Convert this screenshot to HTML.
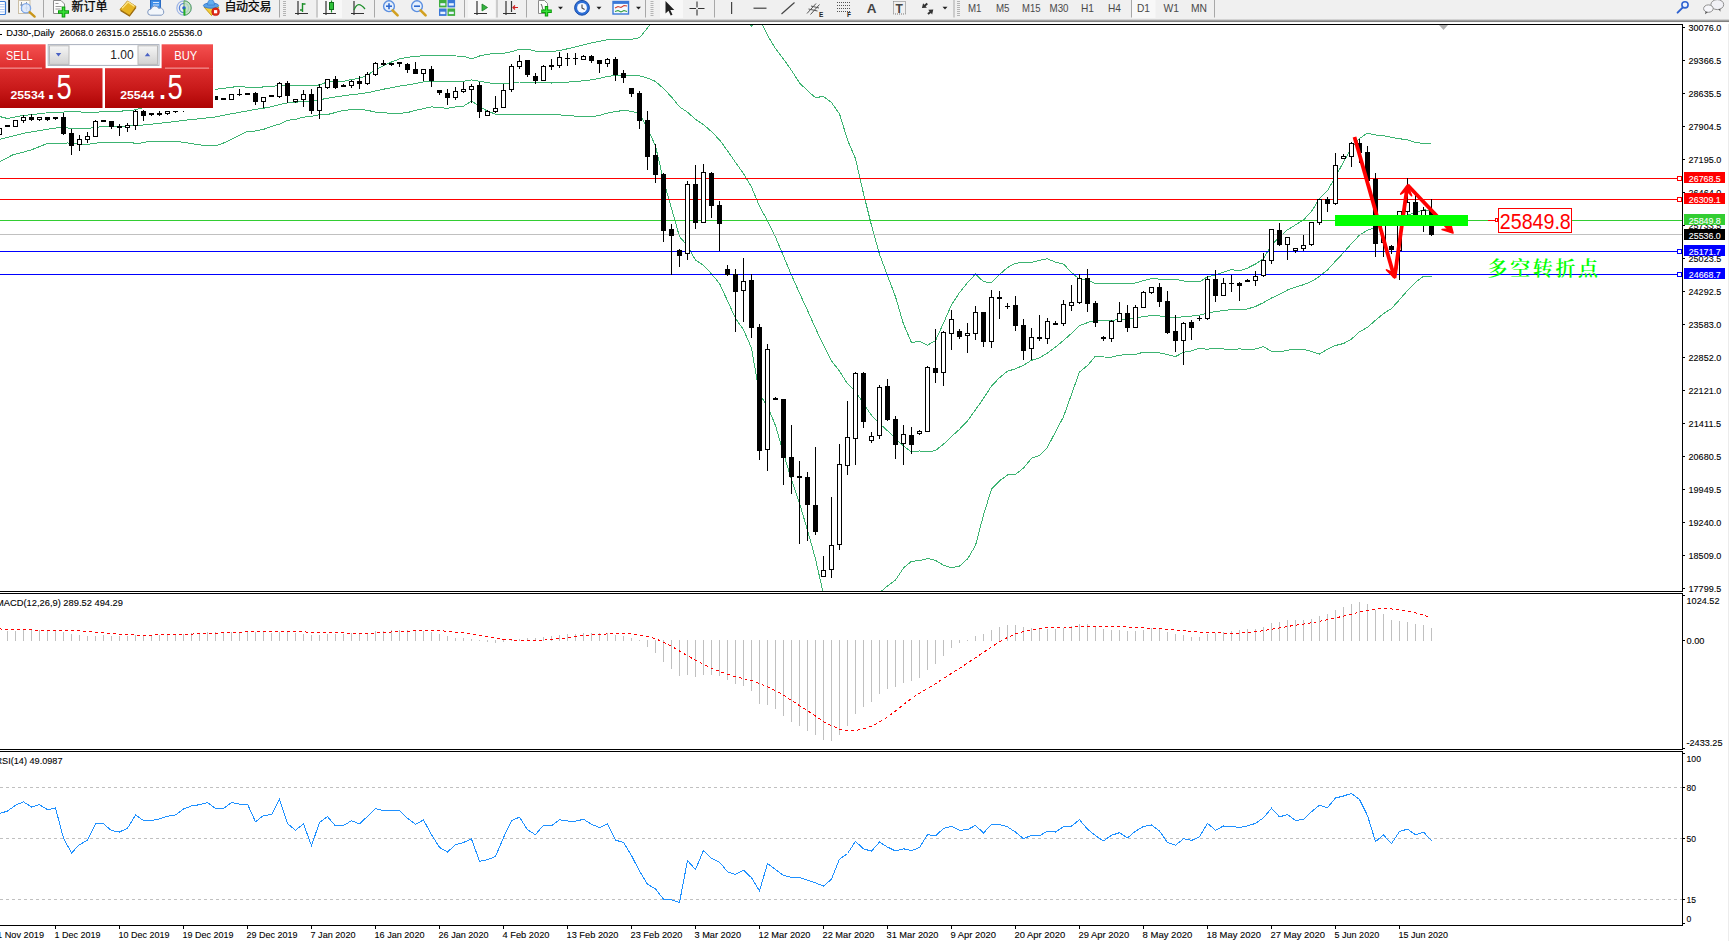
<!DOCTYPE html>
<html><head><meta charset="utf-8"><title>DJ30-,Daily</title>
<style>
html,body{margin:0;padding:0;background:#fff;}
body{width:1729px;height:941px;position:relative;overflow:hidden;font-family:"Liberation Sans","Noto Sans CJK SC",sans-serif;}
#tb{position:absolute;left:0;top:0;width:1729px;height:24px;}
</style></head><body>
<svg width="1729" height="941" viewBox="0 0 1729 941" style="position:absolute;left:0;top:0" shape-rendering="crispEdges">
<defs><clipPath id="cm"><rect x="0" y="25" width="1682" height="566"/></clipPath><clipPath id="c2"><rect x="0" y="594" width="1682" height="155"/></clipPath><clipPath id="c3"><rect x="0" y="752" width="1682" height="173"/></clipPath></defs>
<g clip-path="url(#cm)">
<polyline fill="none" stroke="#3cb371" stroke-width="1" points="-1.0,116.4 7.5,118.5 22.5,115.6 50.0,112.5 75.0,111.6 87.5,112.5 132.0,110.6 150.0,106.0 215.0,89.4 237.5,86.5 255.5,87.8 263.5,86.9 271.5,86.9 279.5,84.8 287.5,85.6 295.5,85.5 303.5,85.4 311.5,85.8 319.5,84.9 327.5,81.9 335.5,81.5 343.5,81.3 351.5,79.5 359.5,78.3 367.5,75.2 375.5,69.6 383.5,65.6 391.5,62.0 399.5,58.9 407.5,57.2 415.5,56.6 423.5,55.5 431.5,55.6 439.5,55.6 447.5,55.5 455.5,56.0 463.5,56.1 471.5,58.9 479.5,56.0 487.5,54.4 495.5,53.3 503.5,53.4 511.5,51.7 519.5,49.2 527.5,49.2 535.5,51.2 543.5,51.4 551.5,51.8 559.5,50.5 567.5,48.8 575.5,46.8 583.5,44.8 591.5,42.8 599.5,41.3 607.5,39.7 615.5,39.6 623.5,39.6 631.5,39.3 639.5,37.8 647.5,28.0 655.5,16.9 663.5,-3.4 671.5,-14.5 679.5,-23.2 687.5,-21.1 695.5,-21.5 703.5,-15.9 711.5,-10.7 719.5,-3.6 727.5,0.7 735.5,6.4 743.5,17.4 751.5,25.9 759.5,18.2 767.5,35.4 775.5,48.5 783.5,59.0 791.5,70.4 799.5,82.9 807.5,90.7 815.5,97.6 823.5,96.4 831.5,102.6 839.5,113.9 847.5,139.9 855.5,158.6 863.5,193.6 871.5,225.4 879.5,254.2 887.5,275.6 895.5,296.8 903.5,324.1 911.5,342.6 919.5,341.2 927.5,345.2 935.5,340.6 943.5,323.1 951.5,304.9 959.5,292.6 967.5,282.6 975.5,274.1 983.5,281.7 991.5,282.7 999.5,274.5 1007.5,267.5 1015.5,263.3 1023.5,262.5 1031.5,262.4 1039.5,260.4 1047.5,258.8 1055.5,262.2 1063.5,264.1 1071.5,272.4 1079.5,279.4 1087.5,279.7 1095.5,284.0 1103.5,283.8 1111.5,283.9 1119.5,283.5 1127.5,283.5 1135.5,283.0 1143.5,280.6 1151.5,278.7 1159.5,279.1 1167.5,279.9 1175.5,279.3 1183.5,281.0 1191.5,281.4 1199.5,282.0 1207.5,276.8 1215.5,275.1 1223.5,272.1 1231.5,269.6 1239.5,271.0 1247.5,268.1 1255.5,264.0 1263.5,258.5 1271.5,244.7 1279.5,237.1 1287.5,229.8 1295.5,224.9 1303.5,220.0 1311.5,211.4 1319.5,198.6 1327.5,190.7 1335.5,176.8 1343.5,161.9 1351.5,147.8 1359.5,138.5 1367.5,133.1 1375.5,135.0 1383.5,135.7 1391.5,137.4 1399.5,138.7 1407.5,139.9 1415.5,142.4 1423.5,143.5 1431.5,143.4" />
<polyline fill="none" stroke="#3cb371" stroke-width="1" points="-1.0,139.5 25.0,133.0 50.0,128.8 65.0,126.9 70.0,129.0 87.5,128.5 100.0,126.9 125.0,126.2 137.5,125.6 162.5,123.0 187.5,120.0 216.0,116.9 225.0,115.0 255.5,109.4 263.5,108.2 271.5,106.7 279.5,104.5 287.5,103.0 295.5,102.4 303.5,101.3 311.5,101.1 319.5,99.8 327.5,98.2 335.5,97.0 343.5,95.8 351.5,94.7 359.5,93.9 367.5,92.7 375.5,90.9 383.5,89.2 391.5,87.7 399.5,86.1 407.5,84.9 415.5,83.5 423.5,82.0 431.5,81.2 439.5,81.7 447.5,81.8 455.5,81.4 463.5,81.2 471.5,79.9 479.5,81.2 487.5,82.7 495.5,83.7 503.5,83.9 511.5,83.1 519.5,82.0 527.5,82.0 535.5,82.8 543.5,82.9 551.5,83.0 559.5,82.7 567.5,82.2 575.5,81.4 583.5,80.8 591.5,79.8 599.5,78.3 607.5,76.4 615.5,75.6 623.5,75.0 631.5,75.3 639.5,75.8 647.5,78.1 655.5,81.4 663.5,88.5 671.5,97.0 679.5,106.8 687.5,112.2 695.5,119.4 703.5,124.7 711.5,131.6 719.5,139.9 727.5,150.7 735.5,162.4 743.5,173.6 751.5,187.0 759.5,206.3 767.5,220.8 775.5,237.1 783.5,256.1 791.5,275.2 799.5,293.1 807.5,310.4 815.5,328.3 823.5,345.3 831.5,360.8 839.5,371.2 847.5,383.8 855.5,391.3 863.5,403.8 871.5,415.3 879.5,423.5 887.5,430.8 895.5,438.4 903.5,446.1 911.5,451.9 919.5,451.0 927.5,451.9 935.5,450.5 943.5,444.2 951.5,436.4 959.5,429.3 967.5,420.8 975.5,409.8 983.5,398.4 991.5,386.0 999.5,377.7 1007.5,371.2 1015.5,368.8 1023.5,365.3 1031.5,360.3 1039.5,357.9 1047.5,353.0 1055.5,347.0 1063.5,340.5 1071.5,333.4 1079.5,325.7 1087.5,322.6 1095.5,320.1 1103.5,320.4 1111.5,320.5 1119.5,319.3 1127.5,319.1 1135.5,318.8 1143.5,316.3 1151.5,315.8 1159.5,315.9 1167.5,317.2 1175.5,318.0 1183.5,316.6 1191.5,316.1 1199.5,315.1 1207.5,313.0 1215.5,311.6 1223.5,310.5 1231.5,309.6 1239.5,310.0 1247.5,308.9 1255.5,306.5 1263.5,302.6 1271.5,298.0 1279.5,294.5 1287.5,290.0 1295.5,287.1 1303.5,284.7 1311.5,281.5 1319.5,276.4 1327.5,269.9 1335.5,261.1 1343.5,252.7 1351.5,243.5 1359.5,235.1 1367.5,230.2 1375.5,227.6 1383.5,224.7 1391.5,222.9 1399.5,219.2 1407.5,215.2 1415.5,212.4 1423.5,209.9 1431.5,210.2" />
<polyline fill="none" stroke="#3cb371" stroke-width="1" points="-1.0,162.0 12.5,155.0 31.0,150.0 46.0,144.0 67.5,143.0 87.5,144.4 100.0,142.5 131.0,142.5 137.5,143.8 150.0,141.2 175.0,141.2 187.5,143.0 205.0,145.6 216.0,145.6 225.0,142.5 246.0,131.9 255.5,131.0 263.5,129.4 271.5,126.4 279.5,124.1 287.5,120.3 295.5,119.3 303.5,117.2 311.5,116.4 319.5,114.6 327.5,114.5 335.5,112.5 343.5,110.3 351.5,109.8 359.5,109.4 367.5,110.3 375.5,112.2 383.5,112.8 391.5,113.3 399.5,113.3 407.5,112.6 415.5,110.3 423.5,108.6 431.5,106.8 439.5,107.8 447.5,108.2 455.5,106.9 463.5,106.2 471.5,101.0 479.5,106.4 487.5,111.1 495.5,114.1 503.5,114.4 511.5,114.5 519.5,114.8 527.5,114.8 535.5,114.5 543.5,114.4 551.5,114.3 559.5,114.9 567.5,115.5 575.5,116.1 583.5,116.8 591.5,116.8 599.5,115.4 607.5,113.1 615.5,111.6 623.5,110.4 631.5,111.3 639.5,113.8 647.5,128.2 655.5,146.0 663.5,180.4 671.5,208.5 679.5,236.7 687.5,245.6 695.5,260.2 703.5,265.2 711.5,273.9 719.5,283.5 727.5,300.8 735.5,318.3 743.5,329.8 751.5,348.0 759.5,394.4 767.5,406.2 775.5,425.6 783.5,453.2 791.5,480.0 799.5,503.2 807.5,530.2 815.5,559.0 823.5,594.2 831.5,619.0 839.5,628.5 847.5,627.8 855.5,624.0 863.5,614.0 871.5,605.3 879.5,592.8 887.5,585.9 895.5,580.0 903.5,568.0 911.5,561.3 919.5,560.7 927.5,558.5 935.5,560.4 943.5,565.3 951.5,567.9 959.5,566.1 967.5,558.9 975.5,545.5 983.5,515.0 991.5,489.2 999.5,480.9 1007.5,474.9 1015.5,474.3 1023.5,468.1 1031.5,458.3 1039.5,455.4 1047.5,447.2 1055.5,431.8 1063.5,416.8 1071.5,394.4 1079.5,372.0 1087.5,365.5 1095.5,356.1 1103.5,357.0 1111.5,357.1 1119.5,355.2 1127.5,354.6 1135.5,354.6 1143.5,352.1 1151.5,352.9 1159.5,352.8 1167.5,354.6 1175.5,356.6 1183.5,352.3 1191.5,350.9 1199.5,348.2 1207.5,349.3 1215.5,348.1 1223.5,349.0 1231.5,349.6 1239.5,348.9 1247.5,349.6 1255.5,349.0 1263.5,346.7 1271.5,351.3 1279.5,351.9 1287.5,350.2 1295.5,349.2 1303.5,349.4 1311.5,351.5 1319.5,354.1 1327.5,349.1 1335.5,345.5 1343.5,343.5 1351.5,339.1 1359.5,331.8 1367.5,327.3 1375.5,320.2 1383.5,313.6 1391.5,308.5 1399.5,299.7 1407.5,290.6 1415.5,282.4 1423.5,276.3 1431.5,277.0" />
<rect x="0" y="178" width="1682" height="1" fill="#ff0000"/>
<rect x="0" y="199" width="1682" height="1" fill="#ff0000"/>
<rect x="0" y="220" width="1682" height="1" fill="#32cd32"/>
<rect x="0" y="234" width="1682" height="1" fill="#c0c0c0"/>
<rect x="0" y="251" width="1682" height="1" fill="#0000ff"/>
<rect x="0" y="274" width="1682" height="1" fill="#0000ff"/>
<rect x="-1" y="128" width="1" height="7" fill="#000"/>
<rect x="-3" y="128" width="5" height="7" fill="#000"/>
<rect x="-2" y="129" width="3" height="5" fill="#fff"/>
<rect x="7" y="125" width="1" height="2" fill="#000"/>
<rect x="5" y="125" width="5" height="2" fill="#000"/>
<rect x="15" y="120" width="1" height="7" fill="#000"/>
<rect x="13" y="120" width="5" height="7" fill="#000"/>
<rect x="14" y="121" width="3" height="5" fill="#fff"/>
<rect x="23" y="115" width="1" height="8" fill="#000"/>
<rect x="21" y="117" width="5" height="4" fill="#000"/>
<rect x="22" y="118" width="3" height="2" fill="#fff"/>
<rect x="31" y="114" width="1" height="7" fill="#000"/>
<rect x="29" y="117" width="5" height="3" fill="#000"/>
<rect x="39" y="117" width="1" height="4" fill="#000"/>
<rect x="37" y="117" width="5" height="3" fill="#000"/>
<rect x="38" y="118" width="3" height="1" fill="#fff"/>
<rect x="47" y="117" width="1" height="4" fill="#000"/>
<rect x="45" y="117" width="5" height="3" fill="#000"/>
<rect x="55" y="117" width="1" height="3" fill="#000"/>
<rect x="53" y="117" width="5" height="2" fill="#000"/>
<rect x="63" y="113" width="1" height="22" fill="#000"/>
<rect x="61" y="117" width="5" height="17" fill="#000"/>
<rect x="71" y="129" width="1" height="26" fill="#000"/>
<rect x="69" y="133" width="5" height="13" fill="#000"/>
<rect x="79" y="135" width="1" height="16" fill="#000"/>
<rect x="77" y="139" width="5" height="6" fill="#000"/>
<rect x="78" y="140" width="3" height="4" fill="#fff"/>
<rect x="87" y="132" width="1" height="11" fill="#000"/>
<rect x="85" y="136" width="5" height="4" fill="#000"/>
<rect x="86" y="137" width="3" height="2" fill="#fff"/>
<rect x="95" y="120" width="1" height="17" fill="#000"/>
<rect x="93" y="121" width="5" height="16" fill="#000"/>
<rect x="94" y="122" width="3" height="14" fill="#fff"/>
<rect x="103" y="120" width="1" height="2" fill="#000"/>
<rect x="101" y="120" width="5" height="2" fill="#000"/>
<rect x="111" y="121" width="1" height="8" fill="#000"/>
<rect x="109" y="121" width="5" height="6" fill="#000"/>
<rect x="119" y="124" width="1" height="12" fill="#000"/>
<rect x="117" y="126" width="5" height="2" fill="#000"/>
<rect x="127" y="123" width="1" height="9" fill="#000"/>
<rect x="125" y="125" width="5" height="3" fill="#000"/>
<rect x="126" y="126" width="3" height="1" fill="#fff"/>
<rect x="135" y="110" width="1" height="20" fill="#000"/>
<rect x="133" y="111" width="5" height="15" fill="#000"/>
<rect x="134" y="112" width="3" height="13" fill="#fff"/>
<rect x="143" y="110" width="1" height="11" fill="#000"/>
<rect x="141" y="111" width="5" height="5" fill="#000"/>
<rect x="151" y="113" width="1" height="3" fill="#000"/>
<rect x="149" y="113" width="5" height="2" fill="#000"/>
<rect x="159" y="111" width="1" height="5" fill="#000"/>
<rect x="157" y="113" width="5" height="2" fill="#000"/>
<rect x="167" y="111" width="1" height="4" fill="#000"/>
<rect x="165" y="111" width="5" height="3" fill="#000"/>
<rect x="166" y="112" width="3" height="1" fill="#fff"/>
<rect x="175" y="111" width="1" height="2" fill="#000"/>
<rect x="173" y="111" width="5" height="1" fill="#000"/>
<rect x="183" y="111" width="1" height="1" fill="#000"/>
<rect x="191" y="103" width="1" height="5" fill="#000"/>
<rect x="189" y="104" width="5" height="3" fill="#000"/>
<rect x="190" y="105" width="3" height="1" fill="#fff"/>
<rect x="199" y="99" width="1" height="6" fill="#000"/>
<rect x="197" y="100" width="5" height="4" fill="#000"/>
<rect x="198" y="101" width="3" height="2" fill="#fff"/>
<rect x="207" y="96" width="1" height="5" fill="#000"/>
<rect x="205" y="96" width="5" height="4" fill="#000"/>
<rect x="206" y="97" width="3" height="2" fill="#fff"/>
<rect x="215" y="96" width="1" height="4" fill="#000"/>
<rect x="213" y="96" width="5" height="4" fill="#000"/>
<rect x="223" y="98" width="1" height="2" fill="#000"/>
<rect x="221" y="98" width="5" height="2" fill="#000"/>
<rect x="231" y="94" width="1" height="6" fill="#000"/>
<rect x="229" y="94" width="5" height="6" fill="#000"/>
<rect x="230" y="95" width="3" height="4" fill="#fff"/>
<rect x="239" y="89" width="1" height="7" fill="#000"/>
<rect x="237" y="94" width="5" height="1" fill="#000"/>
<rect x="247" y="93" width="1" height="2" fill="#000"/>
<rect x="245" y="93" width="5" height="2" fill="#000"/>
<rect x="255" y="92" width="1" height="13" fill="#000"/>
<rect x="253" y="93" width="5" height="9" fill="#000"/>
<rect x="263" y="97" width="1" height="11" fill="#000"/>
<rect x="261" y="97" width="5" height="5" fill="#000"/>
<rect x="262" y="98" width="3" height="3" fill="#fff"/>
<rect x="271" y="95" width="1" height="2" fill="#000"/>
<rect x="269" y="95" width="5" height="2" fill="#000"/>
<rect x="279" y="82" width="1" height="16" fill="#000"/>
<rect x="277" y="83" width="5" height="14" fill="#000"/>
<rect x="278" y="84" width="3" height="12" fill="#fff"/>
<rect x="287" y="81" width="1" height="22" fill="#000"/>
<rect x="285" y="83" width="5" height="13" fill="#000"/>
<rect x="295" y="99" width="1" height="4" fill="#000"/>
<rect x="293" y="99" width="5" height="3" fill="#000"/>
<rect x="294" y="100" width="3" height="1" fill="#fff"/>
<rect x="303" y="90" width="1" height="17" fill="#000"/>
<rect x="301" y="94" width="5" height="6" fill="#000"/>
<rect x="302" y="95" width="3" height="4" fill="#fff"/>
<rect x="311" y="89" width="1" height="25" fill="#000"/>
<rect x="309" y="94" width="5" height="17" fill="#000"/>
<rect x="319" y="84" width="1" height="35" fill="#000"/>
<rect x="317" y="87" width="5" height="24" fill="#000"/>
<rect x="318" y="88" width="3" height="22" fill="#fff"/>
<rect x="327" y="79" width="1" height="10" fill="#000"/>
<rect x="325" y="79" width="5" height="9" fill="#000"/>
<rect x="326" y="80" width="3" height="7" fill="#fff"/>
<rect x="335" y="76" width="1" height="13" fill="#000"/>
<rect x="333" y="79" width="5" height="9" fill="#000"/>
<rect x="343" y="84" width="1" height="3" fill="#000"/>
<rect x="341" y="85" width="5" height="2" fill="#000"/>
<rect x="351" y="80" width="1" height="8" fill="#000"/>
<rect x="349" y="81" width="5" height="5" fill="#000"/>
<rect x="350" y="82" width="3" height="3" fill="#fff"/>
<rect x="359" y="76" width="1" height="13" fill="#000"/>
<rect x="357" y="81" width="5" height="3" fill="#000"/>
<rect x="367" y="72" width="1" height="13" fill="#000"/>
<rect x="365" y="74" width="5" height="10" fill="#000"/>
<rect x="366" y="75" width="3" height="8" fill="#fff"/>
<rect x="375" y="62" width="1" height="14" fill="#000"/>
<rect x="373" y="63" width="5" height="12" fill="#000"/>
<rect x="374" y="64" width="3" height="10" fill="#fff"/>
<rect x="383" y="60" width="1" height="6" fill="#000"/>
<rect x="381" y="63" width="5" height="2" fill="#000"/>
<rect x="391" y="63" width="1" height="3" fill="#000"/>
<rect x="389" y="63" width="5" height="2" fill="#000"/>
<rect x="399" y="62" width="1" height="5" fill="#000"/>
<rect x="397" y="62" width="5" height="2" fill="#000"/>
<rect x="407" y="63" width="1" height="10" fill="#000"/>
<rect x="405" y="64" width="5" height="6" fill="#000"/>
<rect x="415" y="62" width="1" height="12" fill="#000"/>
<rect x="413" y="69" width="5" height="5" fill="#000"/>
<rect x="423" y="69" width="1" height="12" fill="#000"/>
<rect x="421" y="69" width="5" height="5" fill="#000"/>
<rect x="422" y="70" width="3" height="3" fill="#fff"/>
<rect x="431" y="66" width="1" height="21" fill="#000"/>
<rect x="429" y="69" width="5" height="12" fill="#000"/>
<rect x="439" y="90" width="1" height="5" fill="#000"/>
<rect x="437" y="90" width="5" height="3" fill="#000"/>
<rect x="447" y="89" width="1" height="16" fill="#000"/>
<rect x="445" y="93" width="5" height="5" fill="#000"/>
<rect x="455" y="87" width="1" height="13" fill="#000"/>
<rect x="453" y="91" width="5" height="7" fill="#000"/>
<rect x="454" y="92" width="3" height="5" fill="#fff"/>
<rect x="463" y="82" width="1" height="11" fill="#000"/>
<rect x="461" y="89" width="5" height="3" fill="#000"/>
<rect x="462" y="90" width="3" height="1" fill="#fff"/>
<rect x="471" y="84" width="1" height="19" fill="#000"/>
<rect x="469" y="86" width="5" height="4" fill="#000"/>
<rect x="470" y="87" width="3" height="2" fill="#fff"/>
<rect x="479" y="82" width="1" height="36" fill="#000"/>
<rect x="477" y="85" width="5" height="27" fill="#000"/>
<rect x="487" y="110" width="1" height="6" fill="#000"/>
<rect x="485" y="111" width="5" height="5" fill="#000"/>
<rect x="486" y="112" width="3" height="3" fill="#fff"/>
<rect x="495" y="96" width="1" height="17" fill="#000"/>
<rect x="493" y="108" width="5" height="4" fill="#000"/>
<rect x="494" y="109" width="3" height="2" fill="#fff"/>
<rect x="503" y="84" width="1" height="24" fill="#000"/>
<rect x="501" y="90" width="5" height="18" fill="#000"/>
<rect x="502" y="91" width="3" height="16" fill="#fff"/>
<rect x="511" y="64" width="1" height="28" fill="#000"/>
<rect x="509" y="66" width="5" height="24" fill="#000"/>
<rect x="510" y="67" width="3" height="22" fill="#fff"/>
<rect x="519" y="55" width="1" height="14" fill="#000"/>
<rect x="517" y="61" width="5" height="6" fill="#000"/>
<rect x="518" y="62" width="3" height="4" fill="#fff"/>
<rect x="527" y="60" width="1" height="17" fill="#000"/>
<rect x="525" y="60" width="5" height="15" fill="#000"/>
<rect x="535" y="73" width="1" height="11" fill="#000"/>
<rect x="533" y="76" width="5" height="5" fill="#000"/>
<rect x="543" y="65" width="1" height="16" fill="#000"/>
<rect x="541" y="66" width="5" height="15" fill="#000"/>
<rect x="542" y="67" width="3" height="13" fill="#fff"/>
<rect x="551" y="59" width="1" height="11" fill="#000"/>
<rect x="549" y="65" width="5" height="2" fill="#000"/>
<rect x="559" y="52" width="1" height="16" fill="#000"/>
<rect x="557" y="57" width="5" height="9" fill="#000"/>
<rect x="558" y="58" width="3" height="7" fill="#fff"/>
<rect x="567" y="53" width="1" height="13" fill="#000"/>
<rect x="565" y="58" width="5" height="1" fill="#000"/>
<rect x="575" y="53" width="1" height="12" fill="#000"/>
<rect x="573" y="58" width="5" height="1" fill="#000"/>
<rect x="583" y="55" width="1" height="5" fill="#000"/>
<rect x="581" y="56" width="5" height="4" fill="#000"/>
<rect x="582" y="57" width="3" height="2" fill="#fff"/>
<rect x="591" y="55" width="1" height="8" fill="#000"/>
<rect x="589" y="56" width="5" height="5" fill="#000"/>
<rect x="599" y="60" width="1" height="13" fill="#000"/>
<rect x="597" y="60" width="5" height="4" fill="#000"/>
<rect x="607" y="58" width="1" height="9" fill="#000"/>
<rect x="605" y="59" width="5" height="5" fill="#000"/>
<rect x="606" y="60" width="3" height="3" fill="#fff"/>
<rect x="615" y="57" width="1" height="24" fill="#000"/>
<rect x="613" y="59" width="5" height="16" fill="#000"/>
<rect x="623" y="70" width="1" height="13" fill="#000"/>
<rect x="621" y="73" width="5" height="5" fill="#000"/>
<rect x="631" y="88" width="1" height="9" fill="#000"/>
<rect x="629" y="88" width="5" height="6" fill="#000"/>
<rect x="639" y="91" width="1" height="38" fill="#000"/>
<rect x="637" y="93" width="5" height="28" fill="#000"/>
<rect x="647" y="111" width="1" height="59" fill="#000"/>
<rect x="645" y="120" width="5" height="37" fill="#000"/>
<rect x="655" y="144" width="1" height="39" fill="#000"/>
<rect x="653" y="155" width="5" height="20" fill="#000"/>
<rect x="663" y="173" width="1" height="69" fill="#000"/>
<rect x="661" y="174" width="5" height="57" fill="#000"/>
<rect x="671" y="224" width="1" height="51" fill="#000"/>
<rect x="669" y="229" width="5" height="7" fill="#000"/>
<rect x="679" y="249" width="1" height="18" fill="#000"/>
<rect x="677" y="250" width="5" height="6" fill="#000"/>
<rect x="687" y="181" width="1" height="79" fill="#000"/>
<rect x="685" y="184" width="5" height="70" fill="#000"/>
<rect x="686" y="185" width="3" height="68" fill="#fff"/>
<rect x="695" y="165" width="1" height="64" fill="#000"/>
<rect x="693" y="184" width="5" height="39" fill="#000"/>
<rect x="703" y="164" width="1" height="59" fill="#000"/>
<rect x="701" y="172" width="5" height="51" fill="#000"/>
<rect x="702" y="173" width="3" height="49" fill="#fff"/>
<rect x="711" y="172" width="1" height="46" fill="#000"/>
<rect x="709" y="173" width="5" height="33" fill="#000"/>
<rect x="719" y="201" width="1" height="50" fill="#000"/>
<rect x="717" y="205" width="5" height="19" fill="#000"/>
<rect x="727" y="265" width="1" height="11" fill="#000"/>
<rect x="725" y="269" width="5" height="6" fill="#000"/>
<rect x="735" y="269" width="1" height="63" fill="#000"/>
<rect x="733" y="274" width="5" height="18" fill="#000"/>
<rect x="743" y="258" width="1" height="64" fill="#000"/>
<rect x="741" y="281" width="5" height="10" fill="#000"/>
<rect x="742" y="282" width="3" height="8" fill="#fff"/>
<rect x="751" y="274" width="1" height="64" fill="#000"/>
<rect x="749" y="280" width="5" height="48" fill="#000"/>
<rect x="759" y="324" width="1" height="136" fill="#000"/>
<rect x="757" y="327" width="5" height="124" fill="#000"/>
<rect x="767" y="344" width="1" height="127" fill="#000"/>
<rect x="765" y="349" width="5" height="101" fill="#000"/>
<rect x="766" y="350" width="3" height="99" fill="#fff"/>
<rect x="775" y="397" width="1" height="3" fill="#000"/>
<rect x="773" y="398" width="5" height="2" fill="#000"/>
<rect x="783" y="399" width="1" height="86" fill="#000"/>
<rect x="781" y="399" width="5" height="59" fill="#000"/>
<rect x="791" y="425" width="1" height="69" fill="#000"/>
<rect x="789" y="457" width="5" height="20" fill="#000"/>
<rect x="799" y="461" width="1" height="83" fill="#000"/>
<rect x="797" y="476" width="5" height="2" fill="#000"/>
<rect x="807" y="472" width="1" height="69" fill="#000"/>
<rect x="805" y="477" width="5" height="28" fill="#000"/>
<rect x="815" y="447" width="1" height="88" fill="#000"/>
<rect x="813" y="505" width="5" height="27" fill="#000"/>
<rect x="823" y="556" width="1" height="21" fill="#000"/>
<rect x="821" y="570" width="5" height="7" fill="#000"/>
<rect x="822" y="571" width="3" height="5" fill="#fff"/>
<rect x="831" y="497" width="1" height="81" fill="#000"/>
<rect x="829" y="545" width="5" height="25" fill="#000"/>
<rect x="830" y="546" width="3" height="23" fill="#fff"/>
<rect x="839" y="444" width="1" height="106" fill="#000"/>
<rect x="837" y="464" width="5" height="81" fill="#000"/>
<rect x="838" y="465" width="3" height="79" fill="#fff"/>
<rect x="847" y="401" width="1" height="74" fill="#000"/>
<rect x="845" y="437" width="5" height="29" fill="#000"/>
<rect x="846" y="438" width="3" height="27" fill="#fff"/>
<rect x="855" y="372" width="1" height="93" fill="#000"/>
<rect x="853" y="373" width="5" height="66" fill="#000"/>
<rect x="854" y="374" width="3" height="64" fill="#fff"/>
<rect x="863" y="372" width="1" height="56" fill="#000"/>
<rect x="861" y="373" width="5" height="49" fill="#000"/>
<rect x="871" y="432" width="1" height="11" fill="#000"/>
<rect x="869" y="436" width="5" height="5" fill="#000"/>
<rect x="870" y="437" width="3" height="3" fill="#fff"/>
<rect x="879" y="385" width="1" height="54" fill="#000"/>
<rect x="877" y="387" width="5" height="49" fill="#000"/>
<rect x="878" y="388" width="3" height="47" fill="#fff"/>
<rect x="887" y="379" width="1" height="42" fill="#000"/>
<rect x="885" y="386" width="5" height="34" fill="#000"/>
<rect x="895" y="416" width="1" height="43" fill="#000"/>
<rect x="893" y="419" width="5" height="26" fill="#000"/>
<rect x="903" y="425" width="1" height="40" fill="#000"/>
<rect x="901" y="434" width="5" height="10" fill="#000"/>
<rect x="902" y="435" width="3" height="8" fill="#fff"/>
<rect x="911" y="427" width="1" height="27" fill="#000"/>
<rect x="909" y="435" width="5" height="10" fill="#000"/>
<rect x="919" y="430" width="1" height="5" fill="#000"/>
<rect x="917" y="431" width="5" height="3" fill="#000"/>
<rect x="918" y="432" width="3" height="1" fill="#fff"/>
<rect x="927" y="366" width="1" height="66" fill="#000"/>
<rect x="925" y="367" width="5" height="65" fill="#000"/>
<rect x="926" y="368" width="3" height="63" fill="#fff"/>
<rect x="935" y="329" width="1" height="54" fill="#000"/>
<rect x="933" y="368" width="5" height="5" fill="#000"/>
<rect x="943" y="331" width="1" height="55" fill="#000"/>
<rect x="941" y="332" width="5" height="41" fill="#000"/>
<rect x="942" y="333" width="3" height="39" fill="#fff"/>
<rect x="951" y="310" width="1" height="40" fill="#000"/>
<rect x="949" y="319" width="5" height="15" fill="#000"/>
<rect x="950" y="320" width="3" height="13" fill="#fff"/>
<rect x="959" y="329" width="1" height="10" fill="#000"/>
<rect x="957" y="331" width="5" height="6" fill="#000"/>
<rect x="967" y="323" width="1" height="30" fill="#000"/>
<rect x="965" y="333" width="5" height="3" fill="#000"/>
<rect x="966" y="334" width="3" height="1" fill="#fff"/>
<rect x="975" y="306" width="1" height="34" fill="#000"/>
<rect x="973" y="312" width="5" height="22" fill="#000"/>
<rect x="974" y="313" width="3" height="20" fill="#fff"/>
<rect x="983" y="312" width="1" height="35" fill="#000"/>
<rect x="981" y="312" width="5" height="30" fill="#000"/>
<rect x="991" y="290" width="1" height="58" fill="#000"/>
<rect x="989" y="297" width="5" height="45" fill="#000"/>
<rect x="990" y="298" width="3" height="43" fill="#fff"/>
<rect x="999" y="291" width="1" height="28" fill="#000"/>
<rect x="997" y="297" width="5" height="2" fill="#000"/>
<rect x="1007" y="303" width="1" height="6" fill="#000"/>
<rect x="1005" y="306" width="5" height="1" fill="#000"/>
<rect x="1015" y="296" width="1" height="35" fill="#000"/>
<rect x="1013" y="305" width="5" height="21" fill="#000"/>
<rect x="1023" y="319" width="1" height="41" fill="#000"/>
<rect x="1021" y="325" width="5" height="26" fill="#000"/>
<rect x="1031" y="328" width="1" height="32" fill="#000"/>
<rect x="1029" y="337" width="5" height="12" fill="#000"/>
<rect x="1030" y="338" width="3" height="10" fill="#fff"/>
<rect x="1039" y="315" width="1" height="26" fill="#000"/>
<rect x="1037" y="337" width="5" height="2" fill="#000"/>
<rect x="1047" y="318" width="1" height="26" fill="#000"/>
<rect x="1045" y="321" width="5" height="18" fill="#000"/>
<rect x="1046" y="322" width="3" height="16" fill="#fff"/>
<rect x="1055" y="321" width="1" height="4" fill="#000"/>
<rect x="1053" y="323" width="5" height="2" fill="#000"/>
<rect x="1063" y="300" width="1" height="26" fill="#000"/>
<rect x="1061" y="304" width="5" height="20" fill="#000"/>
<rect x="1062" y="305" width="3" height="18" fill="#fff"/>
<rect x="1071" y="285" width="1" height="26" fill="#000"/>
<rect x="1069" y="302" width="5" height="4" fill="#000"/>
<rect x="1070" y="303" width="3" height="2" fill="#fff"/>
<rect x="1079" y="274" width="1" height="30" fill="#000"/>
<rect x="1077" y="278" width="5" height="25" fill="#000"/>
<rect x="1078" y="279" width="3" height="23" fill="#fff"/>
<rect x="1087" y="269" width="1" height="43" fill="#000"/>
<rect x="1085" y="278" width="5" height="26" fill="#000"/>
<rect x="1095" y="301" width="1" height="26" fill="#000"/>
<rect x="1093" y="303" width="5" height="20" fill="#000"/>
<rect x="1103" y="336" width="1" height="5" fill="#000"/>
<rect x="1101" y="337" width="5" height="2" fill="#000"/>
<rect x="1111" y="320" width="1" height="22" fill="#000"/>
<rect x="1109" y="321" width="5" height="18" fill="#000"/>
<rect x="1110" y="322" width="3" height="16" fill="#fff"/>
<rect x="1119" y="302" width="1" height="20" fill="#000"/>
<rect x="1117" y="313" width="5" height="9" fill="#000"/>
<rect x="1118" y="314" width="3" height="7" fill="#fff"/>
<rect x="1127" y="305" width="1" height="27" fill="#000"/>
<rect x="1125" y="313" width="5" height="15" fill="#000"/>
<rect x="1135" y="305" width="1" height="23" fill="#000"/>
<rect x="1133" y="307" width="5" height="21" fill="#000"/>
<rect x="1134" y="308" width="3" height="19" fill="#fff"/>
<rect x="1143" y="291" width="1" height="17" fill="#000"/>
<rect x="1141" y="292" width="5" height="16" fill="#000"/>
<rect x="1142" y="293" width="3" height="14" fill="#fff"/>
<rect x="1151" y="287" width="1" height="7" fill="#000"/>
<rect x="1149" y="287" width="5" height="6" fill="#000"/>
<rect x="1150" y="288" width="3" height="4" fill="#fff"/>
<rect x="1159" y="283" width="1" height="24" fill="#000"/>
<rect x="1157" y="287" width="5" height="15" fill="#000"/>
<rect x="1167" y="291" width="1" height="43" fill="#000"/>
<rect x="1165" y="301" width="5" height="32" fill="#000"/>
<rect x="1175" y="315" width="1" height="37" fill="#000"/>
<rect x="1173" y="331" width="5" height="10" fill="#000"/>
<rect x="1183" y="322" width="1" height="43" fill="#000"/>
<rect x="1181" y="323" width="5" height="18" fill="#000"/>
<rect x="1182" y="324" width="3" height="16" fill="#fff"/>
<rect x="1191" y="320" width="1" height="20" fill="#000"/>
<rect x="1189" y="322" width="5" height="6" fill="#000"/>
<rect x="1199" y="316" width="1" height="5" fill="#000"/>
<rect x="1197" y="318" width="5" height="1" fill="#000"/>
<rect x="1207" y="276" width="1" height="44" fill="#000"/>
<rect x="1205" y="279" width="5" height="40" fill="#000"/>
<rect x="1206" y="280" width="3" height="38" fill="#fff"/>
<rect x="1215" y="270" width="1" height="32" fill="#000"/>
<rect x="1213" y="279" width="5" height="17" fill="#000"/>
<rect x="1223" y="278" width="1" height="18" fill="#000"/>
<rect x="1221" y="283" width="5" height="13" fill="#000"/>
<rect x="1222" y="284" width="3" height="11" fill="#fff"/>
<rect x="1231" y="275" width="1" height="17" fill="#000"/>
<rect x="1229" y="283" width="5" height="1" fill="#000"/>
<rect x="1239" y="282" width="1" height="19" fill="#000"/>
<rect x="1237" y="283" width="5" height="3" fill="#000"/>
<rect x="1247" y="279" width="1" height="3" fill="#000"/>
<rect x="1245" y="280" width="5" height="2" fill="#000"/>
<rect x="1255" y="271" width="1" height="15" fill="#000"/>
<rect x="1253" y="276" width="5" height="5" fill="#000"/>
<rect x="1254" y="277" width="3" height="3" fill="#fff"/>
<rect x="1263" y="253" width="1" height="24" fill="#000"/>
<rect x="1261" y="260" width="5" height="16" fill="#000"/>
<rect x="1262" y="261" width="3" height="14" fill="#fff"/>
<rect x="1271" y="229" width="1" height="35" fill="#000"/>
<rect x="1269" y="229" width="5" height="32" fill="#000"/>
<rect x="1270" y="230" width="3" height="30" fill="#fff"/>
<rect x="1279" y="223" width="1" height="23" fill="#000"/>
<rect x="1277" y="230" width="5" height="15" fill="#000"/>
<rect x="1287" y="237" width="1" height="23" fill="#000"/>
<rect x="1285" y="237" width="5" height="8" fill="#000"/>
<rect x="1286" y="238" width="3" height="6" fill="#fff"/>
<rect x="1295" y="248" width="1" height="5" fill="#000"/>
<rect x="1293" y="248" width="5" height="3" fill="#000"/>
<rect x="1294" y="249" width="3" height="1" fill="#fff"/>
<rect x="1303" y="235" width="1" height="16" fill="#000"/>
<rect x="1301" y="245" width="5" height="4" fill="#000"/>
<rect x="1302" y="246" width="3" height="2" fill="#fff"/>
<rect x="1311" y="222" width="1" height="24" fill="#000"/>
<rect x="1309" y="222" width="5" height="23" fill="#000"/>
<rect x="1310" y="223" width="3" height="21" fill="#fff"/>
<rect x="1319" y="199" width="1" height="26" fill="#000"/>
<rect x="1317" y="199" width="5" height="24" fill="#000"/>
<rect x="1318" y="200" width="3" height="22" fill="#fff"/>
<rect x="1327" y="197" width="1" height="15" fill="#000"/>
<rect x="1325" y="199" width="5" height="5" fill="#000"/>
<rect x="1335" y="153" width="1" height="52" fill="#000"/>
<rect x="1333" y="165" width="5" height="39" fill="#000"/>
<rect x="1334" y="166" width="3" height="37" fill="#fff"/>
<rect x="1343" y="154" width="1" height="5" fill="#000"/>
<rect x="1341" y="156" width="5" height="3" fill="#000"/>
<rect x="1342" y="157" width="3" height="1" fill="#fff"/>
<rect x="1351" y="142" width="1" height="25" fill="#000"/>
<rect x="1349" y="143" width="5" height="14" fill="#000"/>
<rect x="1350" y="144" width="3" height="12" fill="#fff"/>
<rect x="1359" y="139" width="1" height="24" fill="#000"/>
<rect x="1357" y="143" width="5" height="10" fill="#000"/>
<rect x="1367" y="146" width="1" height="35" fill="#000"/>
<rect x="1365" y="152" width="5" height="29" fill="#000"/>
<rect x="1375" y="173" width="1" height="84" fill="#000"/>
<rect x="1373" y="179" width="5" height="65" fill="#000"/>
<rect x="1383" y="222" width="1" height="35" fill="#000"/>
<rect x="1381" y="224" width="5" height="19" fill="#000"/>
<rect x="1382" y="225" width="3" height="17" fill="#fff"/>
<rect x="1391" y="245" width="1" height="9" fill="#000"/>
<rect x="1389" y="246" width="5" height="4" fill="#000"/>
<rect x="1399" y="211" width="1" height="69" fill="#000"/>
<rect x="1397" y="211" width="5" height="40" fill="#000"/>
<rect x="1398" y="212" width="3" height="38" fill="#fff"/>
<rect x="1407" y="178" width="1" height="37" fill="#000"/>
<rect x="1405" y="202" width="5" height="10" fill="#000"/>
<rect x="1406" y="203" width="3" height="8" fill="#fff"/>
<rect x="1415" y="191" width="1" height="30" fill="#000"/>
<rect x="1413" y="202" width="5" height="17" fill="#000"/>
<rect x="1423" y="207" width="1" height="25" fill="#000"/>
<rect x="1421" y="210" width="5" height="10" fill="#000"/>
<rect x="1422" y="211" width="3" height="8" fill="#fff"/>
<rect x="1431" y="199" width="1" height="37" fill="#000"/>
<rect x="1429" y="210" width="5" height="25" fill="#000"/>
</g>
<line x1="1354.5" y1="137.0" x2="1394.0" y2="276.1" stroke="#ff0000" stroke-width="3.8" shape-rendering="auto"/><polygon points="1394.5,278.0 1386.5,269.9 1393.0,272.7 1397.1,266.9" fill="#ff0000" stroke="#ff0000" stroke-width="1.6" stroke-linejoin="round" shape-rendering="auto"/>
<line x1="1394.5" y1="278.0" x2="1407.2" y2="187.0" stroke="#ff0000" stroke-width="3.8" shape-rendering="auto"/><polygon points="1407.5,185.0 1411.6,195.7 1406.7,190.4 1400.7,194.1" fill="#ff0000" stroke="#ff0000" stroke-width="1.6" stroke-linejoin="round" shape-rendering="auto"/>
<line x1="1407.5" y1="185.0" x2="1451.6" y2="231.5" stroke="#ff0000" stroke-width="3.8" shape-rendering="auto"/><polygon points="1453.0,233.0 1442.1,229.5 1449.2,229.0 1450.1,222.0" fill="#ff0000" stroke="#ff0000" stroke-width="1.6" stroke-linejoin="round" shape-rendering="auto"/>
<rect x="1335" y="215" width="133" height="11" fill="#00ff00"/>
<g clip-path="url(#c2)">
<rect x="-1" y="632" width="1" height="9" fill="#c0c0c0"/>
<rect x="7" y="631" width="1" height="10" fill="#c0c0c0"/>
<rect x="15" y="631" width="1" height="10" fill="#c0c0c0"/>
<rect x="23" y="630" width="1" height="11" fill="#c0c0c0"/>
<rect x="31" y="630" width="1" height="11" fill="#c0c0c0"/>
<rect x="39" y="630" width="1" height="11" fill="#c0c0c0"/>
<rect x="47" y="630" width="1" height="11" fill="#c0c0c0"/>
<rect x="55" y="630" width="1" height="11" fill="#c0c0c0"/>
<rect x="63" y="632" width="1" height="9" fill="#c0c0c0"/>
<rect x="71" y="634" width="1" height="7" fill="#c0c0c0"/>
<rect x="79" y="635" width="1" height="6" fill="#c0c0c0"/>
<rect x="87" y="636" width="1" height="5" fill="#c0c0c0"/>
<rect x="95" y="636" width="1" height="5" fill="#c0c0c0"/>
<rect x="103" y="635" width="1" height="6" fill="#c0c0c0"/>
<rect x="111" y="636" width="1" height="5" fill="#c0c0c0"/>
<rect x="119" y="636" width="1" height="5" fill="#c0c0c0"/>
<rect x="127" y="636" width="1" height="5" fill="#c0c0c0"/>
<rect x="135" y="635" width="1" height="6" fill="#c0c0c0"/>
<rect x="143" y="635" width="1" height="6" fill="#c0c0c0"/>
<rect x="151" y="635" width="1" height="6" fill="#c0c0c0"/>
<rect x="159" y="635" width="1" height="6" fill="#c0c0c0"/>
<rect x="167" y="634" width="1" height="7" fill="#c0c0c0"/>
<rect x="175" y="634" width="1" height="7" fill="#c0c0c0"/>
<rect x="183" y="634" width="1" height="7" fill="#c0c0c0"/>
<rect x="191" y="633" width="1" height="8" fill="#c0c0c0"/>
<rect x="199" y="633" width="1" height="8" fill="#c0c0c0"/>
<rect x="207" y="632" width="1" height="9" fill="#c0c0c0"/>
<rect x="215" y="632" width="1" height="9" fill="#c0c0c0"/>
<rect x="223" y="632" width="1" height="9" fill="#c0c0c0"/>
<rect x="231" y="632" width="1" height="9" fill="#c0c0c0"/>
<rect x="239" y="632" width="1" height="9" fill="#c0c0c0"/>
<rect x="247" y="632" width="1" height="9" fill="#c0c0c0"/>
<rect x="255" y="632" width="1" height="9" fill="#c0c0c0"/>
<rect x="263" y="632" width="1" height="9" fill="#c0c0c0"/>
<rect x="271" y="633" width="1" height="8" fill="#c0c0c0"/>
<rect x="279" y="632" width="1" height="9" fill="#c0c0c0"/>
<rect x="287" y="632" width="1" height="9" fill="#c0c0c0"/>
<rect x="295" y="633" width="1" height="8" fill="#c0c0c0"/>
<rect x="303" y="634" width="1" height="7" fill="#c0c0c0"/>
<rect x="311" y="635" width="1" height="6" fill="#c0c0c0"/>
<rect x="319" y="635" width="1" height="6" fill="#c0c0c0"/>
<rect x="327" y="634" width="1" height="7" fill="#c0c0c0"/>
<rect x="335" y="634" width="1" height="7" fill="#c0c0c0"/>
<rect x="343" y="634" width="1" height="7" fill="#c0c0c0"/>
<rect x="351" y="633" width="1" height="8" fill="#c0c0c0"/>
<rect x="359" y="633" width="1" height="8" fill="#c0c0c0"/>
<rect x="367" y="633" width="1" height="8" fill="#c0c0c0"/>
<rect x="375" y="631" width="1" height="10" fill="#c0c0c0"/>
<rect x="383" y="631" width="1" height="10" fill="#c0c0c0"/>
<rect x="391" y="630" width="1" height="11" fill="#c0c0c0"/>
<rect x="399" y="630" width="1" height="11" fill="#c0c0c0"/>
<rect x="407" y="630" width="1" height="11" fill="#c0c0c0"/>
<rect x="415" y="631" width="1" height="10" fill="#c0c0c0"/>
<rect x="423" y="631" width="1" height="10" fill="#c0c0c0"/>
<rect x="431" y="632" width="1" height="9" fill="#c0c0c0"/>
<rect x="439" y="634" width="1" height="7" fill="#c0c0c0"/>
<rect x="447" y="636" width="1" height="5" fill="#c0c0c0"/>
<rect x="455" y="638" width="1" height="3" fill="#c0c0c0"/>
<rect x="463" y="638" width="1" height="3" fill="#c0c0c0"/>
<rect x="471" y="639" width="1" height="2" fill="#c0c0c0"/>
<rect x="479" y="640" width="1" height="1" fill="#c0c0c0"/>
<rect x="487" y="640" width="1" height="2" fill="#c0c0c0"/>
<rect x="495" y="640" width="1" height="3" fill="#c0c0c0"/>
<rect x="503" y="640" width="1" height="2" fill="#c0c0c0"/>
<rect x="511" y="640" width="1" height="1" fill="#c0c0c0"/>
<rect x="519" y="639" width="1" height="2" fill="#c0c0c0"/>
<rect x="527" y="638" width="1" height="3" fill="#c0c0c0"/>
<rect x="535" y="638" width="1" height="3" fill="#c0c0c0"/>
<rect x="543" y="637" width="1" height="4" fill="#c0c0c0"/>
<rect x="551" y="636" width="1" height="5" fill="#c0c0c0"/>
<rect x="559" y="635" width="1" height="6" fill="#c0c0c0"/>
<rect x="567" y="634" width="1" height="7" fill="#c0c0c0"/>
<rect x="575" y="634" width="1" height="7" fill="#c0c0c0"/>
<rect x="583" y="633" width="1" height="8" fill="#c0c0c0"/>
<rect x="591" y="633" width="1" height="8" fill="#c0c0c0"/>
<rect x="599" y="633" width="1" height="8" fill="#c0c0c0"/>
<rect x="607" y="633" width="1" height="8" fill="#c0c0c0"/>
<rect x="615" y="635" width="1" height="6" fill="#c0c0c0"/>
<rect x="623" y="636" width="1" height="5" fill="#c0c0c0"/>
<rect x="631" y="638" width="1" height="3" fill="#c0c0c0"/>
<rect x="639" y="640" width="1" height="1" fill="#c0c0c0"/>
<rect x="647" y="640" width="1" height="7" fill="#c0c0c0"/>
<rect x="655" y="640" width="1" height="13" fill="#c0c0c0"/>
<rect x="663" y="640" width="1" height="22" fill="#c0c0c0"/>
<rect x="671" y="640" width="1" height="29" fill="#c0c0c0"/>
<rect x="679" y="640" width="1" height="36" fill="#c0c0c0"/>
<rect x="687" y="640" width="1" height="35" fill="#c0c0c0"/>
<rect x="695" y="640" width="1" height="37" fill="#c0c0c0"/>
<rect x="703" y="640" width="1" height="35" fill="#c0c0c0"/>
<rect x="711" y="640" width="1" height="35" fill="#c0c0c0"/>
<rect x="719" y="640" width="1" height="36" fill="#c0c0c0"/>
<rect x="727" y="640" width="1" height="40" fill="#c0c0c0"/>
<rect x="735" y="640" width="1" height="44" fill="#c0c0c0"/>
<rect x="743" y="640" width="1" height="46" fill="#c0c0c0"/>
<rect x="751" y="640" width="1" height="51" fill="#c0c0c0"/>
<rect x="759" y="640" width="1" height="64" fill="#c0c0c0"/>
<rect x="767" y="640" width="1" height="65" fill="#c0c0c0"/>
<rect x="775" y="640" width="1" height="69" fill="#c0c0c0"/>
<rect x="783" y="640" width="1" height="76" fill="#c0c0c0"/>
<rect x="791" y="640" width="1" height="82" fill="#c0c0c0"/>
<rect x="799" y="640" width="1" height="86" fill="#c0c0c0"/>
<rect x="807" y="640" width="1" height="91" fill="#c0c0c0"/>
<rect x="815" y="640" width="1" height="95" fill="#c0c0c0"/>
<rect x="823" y="640" width="1" height="100" fill="#c0c0c0"/>
<rect x="831" y="640" width="1" height="101" fill="#c0c0c0"/>
<rect x="839" y="640" width="1" height="95" fill="#c0c0c0"/>
<rect x="847" y="640" width="1" height="86" fill="#c0c0c0"/>
<rect x="855" y="640" width="1" height="74" fill="#c0c0c0"/>
<rect x="863" y="640" width="1" height="67" fill="#c0c0c0"/>
<rect x="871" y="640" width="1" height="62" fill="#c0c0c0"/>
<rect x="879" y="640" width="1" height="54" fill="#c0c0c0"/>
<rect x="887" y="640" width="1" height="49" fill="#c0c0c0"/>
<rect x="895" y="640" width="1" height="47" fill="#c0c0c0"/>
<rect x="903" y="640" width="1" height="43" fill="#c0c0c0"/>
<rect x="911" y="640" width="1" height="41" fill="#c0c0c0"/>
<rect x="919" y="640" width="1" height="38" fill="#c0c0c0"/>
<rect x="927" y="640" width="1" height="30" fill="#c0c0c0"/>
<rect x="935" y="640" width="1" height="24" fill="#c0c0c0"/>
<rect x="943" y="640" width="1" height="16" fill="#c0c0c0"/>
<rect x="951" y="640" width="1" height="8" fill="#c0c0c0"/>
<rect x="959" y="640" width="1" height="3" fill="#c0c0c0"/>
<rect x="967" y="640" width="1" height="1" fill="#c0c0c0"/>
<rect x="975" y="636" width="1" height="5" fill="#c0c0c0"/>
<rect x="983" y="634" width="1" height="7" fill="#c0c0c0"/>
<rect x="991" y="630" width="1" height="11" fill="#c0c0c0"/>
<rect x="999" y="627" width="1" height="14" fill="#c0c0c0"/>
<rect x="1007" y="625" width="1" height="16" fill="#c0c0c0"/>
<rect x="1015" y="625" width="1" height="16" fill="#c0c0c0"/>
<rect x="1023" y="627" width="1" height="14" fill="#c0c0c0"/>
<rect x="1031" y="628" width="1" height="13" fill="#c0c0c0"/>
<rect x="1039" y="629" width="1" height="12" fill="#c0c0c0"/>
<rect x="1047" y="629" width="1" height="12" fill="#c0c0c0"/>
<rect x="1055" y="629" width="1" height="12" fill="#c0c0c0"/>
<rect x="1063" y="628" width="1" height="13" fill="#c0c0c0"/>
<rect x="1071" y="626" width="1" height="15" fill="#c0c0c0"/>
<rect x="1079" y="624" width="1" height="17" fill="#c0c0c0"/>
<rect x="1087" y="624" width="1" height="17" fill="#c0c0c0"/>
<rect x="1095" y="626" width="1" height="15" fill="#c0c0c0"/>
<rect x="1103" y="629" width="1" height="12" fill="#c0c0c0"/>
<rect x="1111" y="630" width="1" height="11" fill="#c0c0c0"/>
<rect x="1119" y="630" width="1" height="11" fill="#c0c0c0"/>
<rect x="1127" y="631" width="1" height="10" fill="#c0c0c0"/>
<rect x="1135" y="631" width="1" height="10" fill="#c0c0c0"/>
<rect x="1143" y="630" width="1" height="11" fill="#c0c0c0"/>
<rect x="1151" y="628" width="1" height="13" fill="#c0c0c0"/>
<rect x="1159" y="629" width="1" height="12" fill="#c0c0c0"/>
<rect x="1167" y="632" width="1" height="9" fill="#c0c0c0"/>
<rect x="1175" y="634" width="1" height="7" fill="#c0c0c0"/>
<rect x="1183" y="635" width="1" height="6" fill="#c0c0c0"/>
<rect x="1191" y="637" width="1" height="4" fill="#c0c0c0"/>
<rect x="1199" y="637" width="1" height="4" fill="#c0c0c0"/>
<rect x="1207" y="634" width="1" height="7" fill="#c0c0c0"/>
<rect x="1215" y="633" width="1" height="8" fill="#c0c0c0"/>
<rect x="1223" y="632" width="1" height="9" fill="#c0c0c0"/>
<rect x="1231" y="631" width="1" height="10" fill="#c0c0c0"/>
<rect x="1239" y="630" width="1" height="11" fill="#c0c0c0"/>
<rect x="1247" y="629" width="1" height="12" fill="#c0c0c0"/>
<rect x="1255" y="629" width="1" height="12" fill="#c0c0c0"/>
<rect x="1263" y="627" width="1" height="14" fill="#c0c0c0"/>
<rect x="1271" y="623" width="1" height="18" fill="#c0c0c0"/>
<rect x="1279" y="622" width="1" height="19" fill="#c0c0c0"/>
<rect x="1287" y="620" width="1" height="21" fill="#c0c0c0"/>
<rect x="1295" y="620" width="1" height="21" fill="#c0c0c0"/>
<rect x="1303" y="620" width="1" height="21" fill="#c0c0c0"/>
<rect x="1311" y="619" width="1" height="22" fill="#c0c0c0"/>
<rect x="1319" y="616" width="1" height="25" fill="#c0c0c0"/>
<rect x="1327" y="614" width="1" height="27" fill="#c0c0c0"/>
<rect x="1335" y="610" width="1" height="31" fill="#c0c0c0"/>
<rect x="1343" y="607" width="1" height="34" fill="#c0c0c0"/>
<rect x="1351" y="604" width="1" height="37" fill="#c0c0c0"/>
<rect x="1359" y="602" width="1" height="39" fill="#c0c0c0"/>
<rect x="1367" y="604" width="1" height="37" fill="#c0c0c0"/>
<rect x="1375" y="610" width="1" height="31" fill="#c0c0c0"/>
<rect x="1383" y="614" width="1" height="27" fill="#c0c0c0"/>
<rect x="1391" y="620" width="1" height="21" fill="#c0c0c0"/>
<rect x="1399" y="621" width="1" height="20" fill="#c0c0c0"/>
<rect x="1407" y="622" width="1" height="19" fill="#c0c0c0"/>
<rect x="1415" y="624" width="1" height="17" fill="#c0c0c0"/>
<rect x="1423" y="625" width="1" height="16" fill="#c0c0c0"/>
<rect x="1431" y="628" width="1" height="13" fill="#c0c0c0"/>
<polyline fill="none" stroke="#ff0000" stroke-width="1" points="-0.5,628.9 7.5,629.4 15.5,629.7 23.5,629.9 31.5,630.0 39.5,630.1 47.5,630.1 55.5,630.1 63.5,630.3 71.5,630.6 79.5,631.0 87.5,631.6 95.5,632.2 103.5,632.8 111.5,633.4 119.5,634.1 127.5,634.7 135.5,635.1 143.5,635.2 151.5,635.1 159.5,634.9 167.5,634.7 175.5,634.6 183.5,634.4 191.5,634.1 199.5,633.7 207.5,633.4 215.5,633.1 223.5,632.8 231.5,632.4 239.5,632.1 247.5,631.9 255.5,631.7 263.5,631.5 271.5,631.5 279.5,631.5 287.5,631.6 295.5,631.7 303.5,631.9 311.5,632.3 319.5,632.6 327.5,632.8 335.5,632.9 343.5,633.0 351.5,633.2 359.5,633.3 367.5,633.2 375.5,633.0 383.5,632.5 391.5,632.0 399.5,631.6 407.5,631.2 415.5,630.9 423.5,630.6 431.5,630.5 439.5,630.7 447.5,631.3 455.5,632.1 463.5,633.0 471.5,634.0 479.5,635.2 487.5,636.6 495.5,638.0 503.5,639.2 511.5,639.9 519.5,640.2 527.5,640.3 535.5,640.3 543.5,640.1 551.5,639.5 559.5,638.7 567.5,637.6 575.5,636.5 583.5,635.6 591.5,635.0 599.5,634.4 607.5,633.9 615.5,633.7 623.5,633.6 631.5,634.0 639.5,634.9 647.5,636.5 655.5,638.8 663.5,642.1 671.5,646.2 679.5,651.0 687.5,655.7 695.5,660.3 703.5,664.5 711.5,668.2 719.5,671.3 727.5,674.3 735.5,676.8 743.5,678.7 751.5,680.4 759.5,683.6 767.5,686.7 775.5,690.6 783.5,695.2 791.5,700.4 799.5,705.6 807.5,710.7 815.5,716.1 823.5,721.6 831.5,725.7 839.5,729.0 847.5,730.9 855.5,730.6 863.5,728.9 871.5,726.2 879.5,722.1 887.5,717.0 895.5,711.0 903.5,704.5 911.5,698.6 919.5,693.2 927.5,688.4 935.5,683.6 943.5,678.5 951.5,673.4 959.5,668.4 967.5,663.1 975.5,657.7 983.5,652.4 991.5,646.9 999.5,642.0 1007.5,637.5 1015.5,634.0 1023.5,631.6 1031.5,629.8 1039.5,628.6 1047.5,627.8 1055.5,627.2 1063.5,627.0 1071.5,627.0 1079.5,626.9 1087.5,626.8 1095.5,626.6 1103.5,626.6 1111.5,626.7 1119.5,626.8 1127.5,627.0 1135.5,627.4 1143.5,627.8 1151.5,628.3 1159.5,628.8 1167.5,629.5 1175.5,630.1 1183.5,630.7 1191.5,631.4 1199.5,632.0 1207.5,632.4 1215.5,632.7 1223.5,633.1 1231.5,633.3 1239.5,633.1 1247.5,632.6 1255.5,631.8 1263.5,630.7 1271.5,629.2 1279.5,627.9 1287.5,626.5 1295.5,625.2 1303.5,624.1 1311.5,622.8 1319.5,621.3 1327.5,619.7 1335.5,617.9 1343.5,616.1 1351.5,614.1 1359.5,612.0 1367.5,610.2 1375.5,609.1 1383.5,608.6 1391.5,609.0 1399.5,609.8 1407.5,611.0 1415.5,612.9 1423.5,615.2 1431.5,618.1" stroke-dasharray="3,3"/>
</g>
<g clip-path="url(#c3)">
<line x1="0" y1="787.5" x2="1682" y2="787.5" stroke="#c0c0c0" stroke-width="1" stroke-dasharray="3,3"/>
<line x1="0" y1="838.5" x2="1682" y2="838.5" stroke="#c0c0c0" stroke-width="1" stroke-dasharray="3,3"/>
<line x1="0" y1="899.5" x2="1682" y2="899.5" stroke="#c0c0c0" stroke-width="1" stroke-dasharray="3,3"/>
<polyline fill="none" stroke="#1e90ff" stroke-width="1" points="-0.5,813.6 7.5,811.1 15.5,805.2 23.5,801.9 31.5,807.0 39.5,804.7 47.5,809.7 55.5,808.0 63.5,838.3 71.5,852.9 79.5,844.7 87.5,840.0 95.5,823.8 103.5,823.8 111.5,830.6 119.5,832.0 127.5,828.2 135.5,815.0 143.5,820.5 151.5,820.7 159.5,818.8 167.5,816.2 175.5,815.0 183.5,809.0 191.5,805.9 199.5,804.7 207.5,802.6 215.5,808.5 223.5,808.5 231.5,802.5 239.5,804.1 247.5,804.1 255.5,821.8 263.5,815.4 271.5,814.7 279.5,799.3 287.5,823.7 295.5,830.2 303.5,823.8 311.5,845.7 319.5,822.4 327.5,816.7 335.5,826.0 343.5,825.4 351.5,820.8 359.5,823.8 367.5,816.4 375.5,808.6 383.5,810.7 391.5,810.7 399.5,810.6 407.5,818.3 415.5,824.2 423.5,820.0 431.5,834.7 439.5,847.4 447.5,852.0 455.5,844.7 463.5,842.5 471.5,839.0 479.5,861.3 487.5,859.8 495.5,856.4 503.5,837.6 511.5,820.6 519.5,817.2 527.5,829.8 535.5,834.7 543.5,825.1 551.5,825.8 559.5,819.8 567.5,821.0 575.5,821.2 583.5,819.3 591.5,824.2 599.5,827.7 607.5,824.0 615.5,840.2 623.5,842.4 631.5,855.6 639.5,871.1 647.5,884.2 655.5,888.9 663.5,899.2 671.5,899.9 679.5,902.5 687.5,860.5 695.5,869.6 703.5,850.3 711.5,858.3 719.5,862.1 727.5,871.7 735.5,874.4 743.5,870.1 751.5,877.7 759.5,891.0 767.5,863.6 775.5,869.6 783.5,875.5 791.5,877.4 799.5,877.5 807.5,880.2 815.5,882.8 823.5,886.2 831.5,879.1 839.5,859.2 847.5,853.5 855.5,841.4 863.5,848.9 871.5,851.1 879.5,842.0 887.5,847.1 895.5,850.9 903.5,848.8 911.5,850.5 919.5,847.6 927.5,834.7 935.5,835.9 943.5,828.5 951.5,826.2 959.5,830.3 967.5,829.6 975.5,825.4 983.5,833.0 991.5,824.2 999.5,824.5 1007.5,826.8 1015.5,832.1 1023.5,838.7 1031.5,835.3 1039.5,835.8 1047.5,831.1 1055.5,832.1 1063.5,826.6 1071.5,826.1 1079.5,819.7 1087.5,829.2 1095.5,835.6 1103.5,840.9 1111.5,835.3 1119.5,832.7 1127.5,837.9 1135.5,831.1 1143.5,826.5 1151.5,825.0 1159.5,831.0 1167.5,842.6 1175.5,845.3 1183.5,838.7 1191.5,840.4 1199.5,836.9 1207.5,823.3 1215.5,830.2 1223.5,826.0 1231.5,826.5 1239.5,827.4 1247.5,825.9 1255.5,823.4 1263.5,817.8 1271.5,808.2 1279.5,816.9 1287.5,814.5 1295.5,820.6 1303.5,819.2 1311.5,811.7 1319.5,805.1 1327.5,807.7 1335.5,798.0 1343.5,796.0 1351.5,793.4 1359.5,799.5 1367.5,815.6 1375.5,841.6 1383.5,835.0 1391.5,843.6 1399.5,831.5 1407.5,829.1 1415.5,834.8 1423.5,832.1 1431.5,840.6" />
</g>
<rect x="0" y="24" width="1683" height="1" fill="#000"/>
<rect x="1682" y="24" width="1" height="902" fill="#000"/>
<rect x="0" y="591" width="1683" height="1" fill="#000"/>
<rect x="0" y="593" width="1683" height="1" fill="#000"/>
<rect x="0" y="749" width="1683" height="1" fill="#000"/>
<rect x="0" y="751" width="1683" height="1" fill="#000"/>
<rect x="0" y="592" width="1729" height="1" fill="#fff"/><rect x="0" y="750" width="1729" height="1" fill="#fff"/>
<rect x="0" y="925" width="1683" height="1" fill="#000"/>
<polygon points="1439,25 1448,25 1443.5,30" fill="#b0b0b0" shape-rendering="auto"/>
<rect x="1683" y="27" width="2" height="1" fill="#000"/>
<text x="1688.6" y="31" font-size="9.2" fill="#000" font-family="Liberation Sans, sans-serif" text-anchor="start" textLength="32.6" lengthAdjust="spacingAndGlyphs" stroke="#000" stroke-width="0.1" >30076.0</text>
<rect x="1683" y="60" width="2" height="1" fill="#000"/>
<text x="1688.6" y="64" font-size="9.2" fill="#000" font-family="Liberation Sans, sans-serif" text-anchor="start" textLength="32.6" lengthAdjust="spacingAndGlyphs" stroke="#000" stroke-width="0.1" >29366.5</text>
<rect x="1683" y="93" width="2" height="1" fill="#000"/>
<text x="1688.6" y="97" font-size="9.2" fill="#000" font-family="Liberation Sans, sans-serif" text-anchor="start" textLength="32.6" lengthAdjust="spacingAndGlyphs" stroke="#000" stroke-width="0.1" >28635.5</text>
<rect x="1683" y="126" width="2" height="1" fill="#000"/>
<text x="1688.6" y="130" font-size="9.2" fill="#000" font-family="Liberation Sans, sans-serif" text-anchor="start" textLength="32.6" lengthAdjust="spacingAndGlyphs" stroke="#000" stroke-width="0.1" >27904.5</text>
<rect x="1683" y="159" width="2" height="1" fill="#000"/>
<text x="1688.6" y="163" font-size="9.2" fill="#000" font-family="Liberation Sans, sans-serif" text-anchor="start" textLength="32.6" lengthAdjust="spacingAndGlyphs" stroke="#000" stroke-width="0.1" >27195.0</text>
<rect x="1683" y="192" width="2" height="1" fill="#000"/>
<text x="1688.6" y="196" font-size="9.2" fill="#000" font-family="Liberation Sans, sans-serif" text-anchor="start" textLength="32.6" lengthAdjust="spacingAndGlyphs" stroke="#000" stroke-width="0.1" >26464.0</text>
<rect x="1683" y="225" width="2" height="1" fill="#000"/>
<text x="1688.6" y="229" font-size="9.2" fill="#000" font-family="Liberation Sans, sans-serif" text-anchor="start" textLength="32.6" lengthAdjust="spacingAndGlyphs" stroke="#000" stroke-width="0.1" >25733.5</text>
<rect x="1683" y="258" width="2" height="1" fill="#000"/>
<text x="1688.6" y="262" font-size="9.2" fill="#000" font-family="Liberation Sans, sans-serif" text-anchor="start" textLength="32.6" lengthAdjust="spacingAndGlyphs" stroke="#000" stroke-width="0.1" >25023.5</text>
<rect x="1683" y="291" width="2" height="1" fill="#000"/>
<text x="1688.6" y="295" font-size="9.2" fill="#000" font-family="Liberation Sans, sans-serif" text-anchor="start" textLength="32.6" lengthAdjust="spacingAndGlyphs" stroke="#000" stroke-width="0.1" >24292.5</text>
<rect x="1683" y="324" width="2" height="1" fill="#000"/>
<text x="1688.6" y="328" font-size="9.2" fill="#000" font-family="Liberation Sans, sans-serif" text-anchor="start" textLength="32.6" lengthAdjust="spacingAndGlyphs" stroke="#000" stroke-width="0.1" >23583.0</text>
<rect x="1683" y="357" width="2" height="1" fill="#000"/>
<text x="1688.6" y="361" font-size="9.2" fill="#000" font-family="Liberation Sans, sans-serif" text-anchor="start" textLength="32.6" lengthAdjust="spacingAndGlyphs" stroke="#000" stroke-width="0.1" >22852.0</text>
<rect x="1683" y="390" width="2" height="1" fill="#000"/>
<text x="1688.6" y="394" font-size="9.2" fill="#000" font-family="Liberation Sans, sans-serif" text-anchor="start" textLength="32.6" lengthAdjust="spacingAndGlyphs" stroke="#000" stroke-width="0.1" >22121.0</text>
<rect x="1683" y="423" width="2" height="1" fill="#000"/>
<text x="1688.6" y="427" font-size="9.2" fill="#000" font-family="Liberation Sans, sans-serif" text-anchor="start" textLength="32.6" lengthAdjust="spacingAndGlyphs" stroke="#000" stroke-width="0.1" >21411.5</text>
<rect x="1683" y="456" width="2" height="1" fill="#000"/>
<text x="1688.6" y="460" font-size="9.2" fill="#000" font-family="Liberation Sans, sans-serif" text-anchor="start" textLength="32.6" lengthAdjust="spacingAndGlyphs" stroke="#000" stroke-width="0.1" >20680.5</text>
<rect x="1683" y="489" width="2" height="1" fill="#000"/>
<text x="1688.6" y="493" font-size="9.2" fill="#000" font-family="Liberation Sans, sans-serif" text-anchor="start" textLength="32.6" lengthAdjust="spacingAndGlyphs" stroke="#000" stroke-width="0.1" >19949.5</text>
<rect x="1683" y="522" width="2" height="1" fill="#000"/>
<text x="1688.6" y="526" font-size="9.2" fill="#000" font-family="Liberation Sans, sans-serif" text-anchor="start" textLength="32.6" lengthAdjust="spacingAndGlyphs" stroke="#000" stroke-width="0.1" >19240.0</text>
<rect x="1683" y="555" width="2" height="1" fill="#000"/>
<text x="1688.6" y="559" font-size="9.2" fill="#000" font-family="Liberation Sans, sans-serif" text-anchor="start" textLength="32.6" lengthAdjust="spacingAndGlyphs" stroke="#000" stroke-width="0.1" >18509.0</text>
<rect x="1683" y="588" width="2" height="1" fill="#000"/>
<text x="1688.6" y="592" font-size="9.2" fill="#000" font-family="Liberation Sans, sans-serif" text-anchor="start" textLength="32.6" lengthAdjust="spacingAndGlyphs" stroke="#000" stroke-width="0.1" >17799.5</text>
<rect x="1684" y="172" width="41" height="11" fill="#ff0000"/>
<text x="1688.8" y="182" font-size="9.2" fill="#fff" font-family="Liberation Sans, sans-serif" text-anchor="start" textLength="32" lengthAdjust="spacingAndGlyphs" stroke="#fff" stroke-width="0.1" >26768.5</text>
<rect x="1677.5" y="176.5" width="4" height="4" fill="#fff" stroke="#ff0000" stroke-width="1"/>
<rect x="1684" y="193" width="41" height="11" fill="#ff0000"/>
<text x="1688.8" y="203" font-size="9.2" fill="#fff" font-family="Liberation Sans, sans-serif" text-anchor="start" textLength="32" lengthAdjust="spacingAndGlyphs" stroke="#fff" stroke-width="0.1" >26309.1</text>
<rect x="1677.5" y="197.5" width="4" height="4" fill="#fff" stroke="#ff0000" stroke-width="1"/>
<rect x="1684" y="214" width="41" height="11" fill="#32cd32"/>
<text x="1688.8" y="224" font-size="9.2" fill="#fff" font-family="Liberation Sans, sans-serif" text-anchor="start" textLength="32" lengthAdjust="spacingAndGlyphs" stroke="#fff" stroke-width="0.1" >25849.8</text>
<rect x="1684" y="229" width="41" height="11" fill="#000"/>
<text x="1688.8" y="239" font-size="9.2" fill="#fff" font-family="Liberation Sans, sans-serif" text-anchor="start" textLength="32" lengthAdjust="spacingAndGlyphs" stroke="#fff" stroke-width="0.1" >25536.0</text>
<rect x="1684" y="245" width="41" height="11" fill="#0000ff"/>
<text x="1688.8" y="255" font-size="9.2" fill="#fff" font-family="Liberation Sans, sans-serif" text-anchor="start" textLength="32" lengthAdjust="spacingAndGlyphs" stroke="#fff" stroke-width="0.1" >25171.7</text>
<rect x="1677.5" y="249.5" width="4" height="4" fill="#fff" stroke="#0000ff" stroke-width="1"/>
<rect x="1684" y="268" width="41" height="11" fill="#0000ff"/>
<text x="1688.8" y="278" font-size="9.2" fill="#fff" font-family="Liberation Sans, sans-serif" text-anchor="start" textLength="32" lengthAdjust="spacingAndGlyphs" stroke="#fff" stroke-width="0.1" >24668.7</text>
<rect x="1677.5" y="272.5" width="4" height="4" fill="#fff" stroke="#0000ff" stroke-width="1"/>
<rect x="1683" y="595" width="2" height="1" fill="#000"/>
<rect x="1683" y="640" width="2" height="1" fill="#000"/>
<rect x="1683" y="748" width="2" height="1" fill="#000"/>
<text x="1686.5" y="604" font-size="9.2" fill="#000" font-family="Liberation Sans, sans-serif" text-anchor="start" textLength="33" lengthAdjust="spacingAndGlyphs" stroke="#000" stroke-width="0.1" >1024.52</text>
<text x="1686.5" y="643.6" font-size="9.2" fill="#000" font-family="Liberation Sans, sans-serif" text-anchor="start" textLength="18" lengthAdjust="spacingAndGlyphs" stroke="#000" stroke-width="0.1" >0.00</text>
<text x="1686.5" y="746" font-size="9.2" fill="#000" font-family="Liberation Sans, sans-serif" text-anchor="start" textLength="36" lengthAdjust="spacingAndGlyphs" stroke="#000" stroke-width="0.1" >-2433.25</text>
<text x="1686.5" y="762.3" font-size="9.2" fill="#000" font-family="Liberation Sans, sans-serif" text-anchor="start" textLength="14.5" lengthAdjust="spacingAndGlyphs" stroke="#000" stroke-width="0.1" >100</text>
<text x="1686.5" y="791" font-size="9.2" fill="#000" font-family="Liberation Sans, sans-serif" text-anchor="start" textLength="9.5" lengthAdjust="spacingAndGlyphs" stroke="#000" stroke-width="0.1" >80</text>
<text x="1686.5" y="842" font-size="9.2" fill="#000" font-family="Liberation Sans, sans-serif" text-anchor="start" textLength="9.5" lengthAdjust="spacingAndGlyphs" stroke="#000" stroke-width="0.1" >50</text>
<text x="1686.5" y="903" font-size="9.2" fill="#000" font-family="Liberation Sans, sans-serif" text-anchor="start" textLength="9.5" lengthAdjust="spacingAndGlyphs" stroke="#000" stroke-width="0.1" >15</text>
<text x="1686.5" y="921.6" font-size="9.2" fill="#000" font-family="Liberation Sans, sans-serif" text-anchor="start" textLength="4.8" lengthAdjust="spacingAndGlyphs" stroke="#000" stroke-width="0.1" >0</text>
<rect x="1683" y="753" width="2" height="1" fill="#000"/>
<rect x="1683" y="787" width="2" height="1" fill="#000"/>
<rect x="1683" y="838" width="2" height="1" fill="#000"/>
<rect x="1683" y="899" width="2" height="1" fill="#000"/>
<rect x="1683" y="923" width="2" height="1" fill="#000"/>
<text x="6.3" y="36.1" font-size="9.2" fill="#000" font-family="Liberation Sans, sans-serif" text-anchor="start" textLength="196" lengthAdjust="spacingAndGlyphs" stroke="#000" stroke-width="0.1" >DJ30-,Daily&#160; 26068.0 26315.0 25516.0 25536.0</text>
<text x="-4" y="606" font-size="9.2" fill="#000" font-family="Liberation Sans, sans-serif" text-anchor="start" textLength="127" lengthAdjust="spacingAndGlyphs" stroke="#000" stroke-width="0.1" >MACD(12,26,9) 289.52 494.29</text>
<text x="-4.5" y="764" font-size="9.2" fill="#000" font-family="Liberation Sans, sans-serif" text-anchor="start" textLength="67" lengthAdjust="spacingAndGlyphs" stroke="#000" stroke-width="0.1" >RSI(14) 49.0987</text>
<rect x="0" y="34" width="2" height="1" fill="#000"/>
<rect x="-9" y="926" width="1" height="3" fill="#000"/>
<text x="-8" y="938" font-size="9.2" fill="#000" font-family="Liberation Sans, sans-serif" text-anchor="start" textLength="52" lengthAdjust="spacingAndGlyphs" stroke="#000" stroke-width="0.1" >21 Nov 2019</text>
<rect x="55" y="926" width="1" height="3" fill="#000"/>
<text x="54.5" y="938" font-size="9.2" fill="#000" font-family="Liberation Sans, sans-serif" text-anchor="start" textLength="46" lengthAdjust="spacingAndGlyphs" stroke="#000" stroke-width="0.1" >1 Dec 2019</text>
<rect x="119" y="926" width="1" height="3" fill="#000"/>
<text x="118.5" y="938" font-size="9.2" fill="#000" font-family="Liberation Sans, sans-serif" text-anchor="start" textLength="51" lengthAdjust="spacingAndGlyphs" stroke="#000" stroke-width="0.1" >10 Dec 2019</text>
<rect x="183" y="926" width="1" height="3" fill="#000"/>
<text x="182.5" y="938" font-size="9.2" fill="#000" font-family="Liberation Sans, sans-serif" text-anchor="start" textLength="51" lengthAdjust="spacingAndGlyphs" stroke="#000" stroke-width="0.1" >19 Dec 2019</text>
<rect x="247" y="926" width="1" height="3" fill="#000"/>
<text x="246.5" y="938" font-size="9.2" fill="#000" font-family="Liberation Sans, sans-serif" text-anchor="start" textLength="51" lengthAdjust="spacingAndGlyphs" stroke="#000" stroke-width="0.1" >29 Dec 2019</text>
<rect x="311" y="926" width="1" height="3" fill="#000"/>
<text x="310.5" y="938" font-size="9.2" fill="#000" font-family="Liberation Sans, sans-serif" text-anchor="start" textLength="45" lengthAdjust="spacingAndGlyphs" stroke="#000" stroke-width="0.1" >7 Jan 2020</text>
<rect x="375" y="926" width="1" height="3" fill="#000"/>
<text x="374.5" y="938" font-size="9.2" fill="#000" font-family="Liberation Sans, sans-serif" text-anchor="start" textLength="50" lengthAdjust="spacingAndGlyphs" stroke="#000" stroke-width="0.1" >16 Jan 2020</text>
<rect x="439" y="926" width="1" height="3" fill="#000"/>
<text x="438.5" y="938" font-size="9.2" fill="#000" font-family="Liberation Sans, sans-serif" text-anchor="start" textLength="50" lengthAdjust="spacingAndGlyphs" stroke="#000" stroke-width="0.1" >26 Jan 2020</text>
<rect x="503" y="926" width="1" height="3" fill="#000"/>
<text x="502.5" y="938" font-size="9.2" fill="#000" font-family="Liberation Sans, sans-serif" text-anchor="start" textLength="47" lengthAdjust="spacingAndGlyphs" stroke="#000" stroke-width="0.1" >4 Feb 2020</text>
<rect x="567" y="926" width="1" height="3" fill="#000"/>
<text x="566.5" y="938" font-size="9.2" fill="#000" font-family="Liberation Sans, sans-serif" text-anchor="start" textLength="52" lengthAdjust="spacingAndGlyphs" stroke="#000" stroke-width="0.1" >13 Feb 2020</text>
<rect x="631" y="926" width="1" height="3" fill="#000"/>
<text x="630.5" y="938" font-size="9.2" fill="#000" font-family="Liberation Sans, sans-serif" text-anchor="start" textLength="52" lengthAdjust="spacingAndGlyphs" stroke="#000" stroke-width="0.1" >23 Feb 2020</text>
<rect x="695" y="926" width="1" height="3" fill="#000"/>
<text x="694.5" y="938" font-size="9.2" fill="#000" font-family="Liberation Sans, sans-serif" text-anchor="start" textLength="46.5" lengthAdjust="spacingAndGlyphs" stroke="#000" stroke-width="0.1" >3 Mar 2020</text>
<rect x="759" y="926" width="1" height="3" fill="#000"/>
<text x="758.5" y="938" font-size="9.2" fill="#000" font-family="Liberation Sans, sans-serif" text-anchor="start" textLength="52" lengthAdjust="spacingAndGlyphs" stroke="#000" stroke-width="0.1" >12 Mar 2020</text>
<rect x="823" y="926" width="1" height="3" fill="#000"/>
<text x="822.5" y="938" font-size="9.2" fill="#000" font-family="Liberation Sans, sans-serif" text-anchor="start" textLength="52" lengthAdjust="spacingAndGlyphs" stroke="#000" stroke-width="0.1" >22 Mar 2020</text>
<rect x="887" y="926" width="1" height="3" fill="#000"/>
<text x="886.5" y="938" font-size="9.2" fill="#000" font-family="Liberation Sans, sans-serif" text-anchor="start" textLength="52" lengthAdjust="spacingAndGlyphs" stroke="#000" stroke-width="0.1" >31 Mar 2020</text>
<rect x="951" y="926" width="1" height="3" fill="#000"/>
<text x="950.5" y="938" font-size="9.2" fill="#000" font-family="Liberation Sans, sans-serif" text-anchor="start" textLength="45.5" lengthAdjust="spacingAndGlyphs" stroke="#000" stroke-width="0.1" >9 Apr 2020</text>
<rect x="1015" y="926" width="1" height="3" fill="#000"/>
<text x="1014.5" y="938" font-size="9.2" fill="#000" font-family="Liberation Sans, sans-serif" text-anchor="start" textLength="50.7" lengthAdjust="spacingAndGlyphs" stroke="#000" stroke-width="0.1" >20 Apr 2020</text>
<rect x="1079" y="926" width="1" height="3" fill="#000"/>
<text x="1078.5" y="938" font-size="9.2" fill="#000" font-family="Liberation Sans, sans-serif" text-anchor="start" textLength="50.7" lengthAdjust="spacingAndGlyphs" stroke="#000" stroke-width="0.1" >29 Apr 2020</text>
<rect x="1143" y="926" width="1" height="3" fill="#000"/>
<text x="1142.5" y="938" font-size="9.2" fill="#000" font-family="Liberation Sans, sans-serif" text-anchor="start" textLength="49.8" lengthAdjust="spacingAndGlyphs" stroke="#000" stroke-width="0.1" >8 May 2020</text>
<rect x="1207" y="926" width="1" height="3" fill="#000"/>
<text x="1206.5" y="938" font-size="9.2" fill="#000" font-family="Liberation Sans, sans-serif" text-anchor="start" textLength="54.5" lengthAdjust="spacingAndGlyphs" stroke="#000" stroke-width="0.1" >18 May 2020</text>
<rect x="1271" y="926" width="1" height="3" fill="#000"/>
<text x="1270.5" y="938" font-size="9.2" fill="#000" font-family="Liberation Sans, sans-serif" text-anchor="start" textLength="54.5" lengthAdjust="spacingAndGlyphs" stroke="#000" stroke-width="0.1" >27 May 2020</text>
<rect x="1335" y="926" width="1" height="3" fill="#000"/>
<text x="1334.5" y="938" font-size="9.2" fill="#000" font-family="Liberation Sans, sans-serif" text-anchor="start" textLength="44.7" lengthAdjust="spacingAndGlyphs" stroke="#000" stroke-width="0.1" >5 Jun 2020</text>
<rect x="1399" y="926" width="1" height="3" fill="#000"/>
<text x="1398.5" y="938" font-size="9.2" fill="#000" font-family="Liberation Sans, sans-serif" text-anchor="start" textLength="49.5" lengthAdjust="spacingAndGlyphs" stroke="#000" stroke-width="0.1" >15 Jun 2020</text>
<rect x="1498.5" y="208.5" width="73" height="24" fill="#fff" stroke="#ff0000" stroke-width="1"/>
<rect x="1488" y="220" width="8" height="1" fill="#ff0000"/><rect x="1495.5" y="218.5" width="2" height="3" fill="#fff" stroke="#ff0000"/>
<text x="1499.8" y="228.8" font-size="22.5" fill="#ff0000" font-family="Liberation Sans, sans-serif" text-anchor="start" textLength="71" lengthAdjust="spacingAndGlyphs" >25849.8</text>
<text x="1487.5" y="276.3" font-size="20" fill="#00ff00" font-family="Noto Serif CJK SC, Liberation Serif, serif" font-weight="600" textLength="110.5" lengthAdjust="spacing">多空转折点</text>
<rect x="1728" y="22" width="1" height="919" fill="#ececec"/>
</svg>
<svg id="tb" width="1729" height="24" viewBox="0 0 1729 24" font-family="Liberation Sans, Noto Sans CJK SC, sans-serif">
<defs><linearGradient id="tbg" x1="0" y1="0" x2="0" y2="1"><stop offset="0" stop-color="#e8e8e8"/><stop offset="0.35" stop-color="#b8b8b8"/><stop offset="0.7" stop-color="#767676"/><stop offset="1" stop-color="#9a9a9a"/></linearGradient></defs>
<rect x="0" y="0" width="1729" height="19" fill="#f0f0f0"/>
<rect x="0" y="19" width="1729" height="3.2" fill="url(#tbg)"/>
<rect x="0" y="22.2" width="1729" height="1.8" fill="#fff"/>
<rect x="-2" y="1.5" width="7.5" height="13" rx="1" fill="#fff" stroke="#3b7bd6" stroke-width="1.2"/>
<rect x="0" y="4" width="4.5" height="0.8" fill="#9bbcf0"/>
<rect x="0" y="6.5" width="4.5" height="0.8" fill="#9bbcf0"/>
<rect x="0" y="9" width="4.5" height="0.8" fill="#9bbcf0"/>
<rect x="0" y="11.5" width="4.5" height="0.8" fill="#9bbcf0"/>
<rect x="8.2" y="0" width="1.8" height="12.6" fill="#111"/>
<rect x="18.5" y="0.5" width="11.5" height="13" fill="#fbfaf6" stroke="#cbbfa6" stroke-width="1"/>
<path d="M21.5 2v9M26.5 2v9M20 5h3M25 8h3" stroke="#8a96a8" stroke-width="1" fill="none"/>
<circle cx="26" cy="8.3" r="4.6" fill="#dbe8fb" fill-opacity=".85" stroke="#7ea6e6" stroke-width="1.3"/>
<path d="M29.6 12.2l5 4.4" stroke="#c9961a" stroke-width="2.4" stroke-linecap="round"/>
<rect x="43" y="0" width="1" height="17.5" fill="#a8a8a8"/>
<path d="M53.5 0.5h7.5l3.5 3.5v9.5h-11z" fill="#fdfdfd" stroke="#8a8a8a" stroke-width="1"/>
<path d="M55.5 3.5h3M55.5 6.5h6M55.5 9h5" stroke="#9a9a9a" stroke-width="1"/>
<path d="M63.5 6.5v11M58 12h11" stroke="#0a9a0a" stroke-width="3.6"/>
<path d="M63.5 7.5v9M59 12h9" stroke="#39e039" stroke-width="1.6"/>
<text x="71.6" y="11.2" font-size="12" fill="#000" stroke="#000" stroke-width=".25" textLength="36">新订单</text>
<path d="M120 9.5l7.5-8.5 8.5 5.5-6.5 9z" fill="#e6b422" stroke="#b07d10" stroke-width="1"/>
<path d="M122 8.2l6-6.2 6.5 4.4" stroke="#fbe58a" stroke-width="1.4" fill="none"/>
<path d="M120.5 10.5l9 5.5 6.5-8.5" stroke="#9a6a0c" stroke-width="1.2" fill="none"/>
<rect x="150.5" y="0" width="10" height="9" fill="#3f8ee8" stroke="#2a6cc4" stroke-width="1"/>
<path d="M153 2.5h6M153 5h6" stroke="#d6e8ff" stroke-width="1.2"/>
<path d="M150.5 15.2a3 3 0 0 1 0.4-6a4.2 4.2 0 0 1 7.8-0.8a3.4 3.4 0 0 1 2.6 6.8z" fill="#f2f6fb" stroke="#7f97bf" stroke-width="1"/>
<circle cx="184" cy="8" r="7.2" fill="none" stroke="#9fb6e6" stroke-width="1.2"/>
<circle cx="184" cy="8" r="4.6" fill="none" stroke="#5b86dc" stroke-width="1.3"/>
<path d="M184 0.8a7.2 7.2 0 0 1 0 14.4z" fill="#bfe0bf" fill-opacity=".8" stroke="#5aa55a" stroke-width="1"/>
<circle cx="184" cy="8" r="1.8" fill="#2b5fd0"/>
<path d="M184.5 8.5v7" stroke="#1fae2a" stroke-width="1.8"/>
<path d="M204 7l7.5 8.5 7.5-8.5z" fill="#f3cf3a" stroke="#c79a14" stroke-width="1"/>
<ellipse cx="211" cy="5.6" rx="7.6" ry="2.6" fill="#5aa2e8" stroke="#3b7fd0" stroke-width="1"/>
<path d="M207.5 5c0-3 1.5-5.5 3.5-5.5s3.5 2.5 3.5 5.5z" fill="#62aef0" stroke="#3b7fd0" stroke-width=".8"/>
<circle cx="215.6" cy="11.7" r="3.9" fill="#e02a18" stroke="#b81c10" stroke-width=".6"/>
<rect x="214" y="10.1" width="3.2" height="3.2" fill="#fff"/>
<text x="224.4" y="11.2" font-size="12" fill="#000" stroke="#000" stroke-width=".25" textLength="47">自动交易</text>
<rect x="279" y="0" width="1" height="17.5" fill="#a8a8a8"/>
<rect x="283" y="1" width="3" height="1" fill="#b4b4b4"/>
<rect x="283" y="3" width="3" height="1" fill="#b4b4b4"/>
<rect x="283" y="5" width="3" height="1" fill="#b4b4b4"/>
<rect x="283" y="7" width="3" height="1" fill="#b4b4b4"/>
<rect x="283" y="9" width="3" height="1" fill="#b4b4b4"/>
<rect x="283" y="11" width="3" height="1" fill="#b4b4b4"/>
<rect x="283" y="13" width="3" height="1" fill="#b4b4b4"/>
<rect x="283" y="15" width="3" height="1" fill="#b4b4b4"/>
<path d="M298 1v14M295 13.5h13" stroke="#333" stroke-width="1.2" fill="none"/>
<path d="M302.5 3v9M302.5 4h3M300 10h2.5" stroke="#1d8f2a" stroke-width="1.4" fill="none"/>
<rect x="316.5" y="0" width="1" height="17.5" fill="#a8a8a8"/>
<rect x="318" y="0" width="24" height="18" fill="#f8f8f8"/>
<path d="M326 1v14M323 13.5h13" stroke="#333" stroke-width="1.2" fill="none"/>
<path d="M331.5 0.5v12" stroke="#1d8f2a" stroke-width="1.2"/><rect x="329.5" y="2.5" width="4" height="7" fill="#2fc23a" stroke="#12701c" stroke-width="1"/>
<path d="M354 1v14M351 13.5h13" stroke="#333" stroke-width="1.2" fill="none"/>
<path d="M354 10c3-7 6-7 11-1" stroke="#1d8f2a" stroke-width="1.3" fill="none"/>
<rect x="374" y="0" width="1" height="17.5" fill="#a8a8a8"/>
<circle cx="389" cy="6.2" r="5.4" fill="#e6f0fc" stroke="#5b8fe0" stroke-width="1.4"/>
<path d="M392.6 10.3l5 5" stroke="#d2a020" stroke-width="2.6" stroke-linecap="round"/>
<path d="M386 6.2h6" stroke="#2f6ad0" stroke-width="1.6"/>
<path d="M389 3.2v6" stroke="#2f6ad0" stroke-width="1.6"/>
<circle cx="417" cy="6.2" r="5.4" fill="#e6f0fc" stroke="#5b8fe0" stroke-width="1.4"/>
<path d="M420.6 10.3l5 5" stroke="#d2a020" stroke-width="2.6" stroke-linecap="round"/>
<path d="M414 6.2h6" stroke="#2f6ad0" stroke-width="1.6"/>
<rect x="439" y="0" width="7.6" height="7.4" fill="#3fae3f"/>
<rect x="440.3" y="3.2" width="5" height="2.4" fill="#e8f2ff"/>
<rect x="447.5" y="0" width="7.6" height="7.4" fill="#3a78d8"/>
<rect x="448.8" y="3.2" width="5" height="2.4" fill="#e8f2ff"/>
<rect x="439" y="8.5" width="7.6" height="7.4" fill="#3a78d8"/>
<rect x="440.3" y="11.7" width="5" height="2.4" fill="#e8f2ff"/>
<rect x="447.5" y="8.5" width="7.6" height="7.4" fill="#3fae3f"/>
<rect x="448.8" y="11.7" width="5" height="2.4" fill="#e8f2ff"/>
<rect x="464" y="0" width="1" height="17.5" fill="#a8a8a8"/>
<rect x="468" y="0" width="27" height="18" fill="#f7f7f7"/>
<path d="M477 1v14M474 13.5h13" stroke="#333" stroke-width="1.2" fill="none"/>
<polygon points="482,4 482,11 487.5,7.5" fill="#35b53f" stroke="#1a7d24" stroke-width=".8"/>
<rect x="496.5" y="0" width="1" height="17.5" fill="#a8a8a8"/>
<path d="M506 1v14M503 13.5h13" stroke="#333" stroke-width="1.2" fill="none"/>
<path d="M511.5 1v11" stroke="#333" stroke-width="1.2"/><path d="M518 7.5h-5m2-2l-2 2 2 2" stroke="#d02020" stroke-width="1.2" fill="none"/>
<rect x="526" y="0" width="1" height="17.5" fill="#a8a8a8"/>
<path d="M538.5 0.5h6l3 3v10h-9z" fill="#fdfdfd" stroke="#8a8a8a"/><path d="M541 4c2 3 1 6 3 6" stroke="#555" fill="none"/>
<path d="M546.5 6v10.5M541.2 11.2h10.6" stroke="#0a9a0a" stroke-width="3.4"/><path d="M546.5 7v8.5M542.2 11.2h8.6" stroke="#39e039" stroke-width="1.4"/>
<polygon points="558.0,6.8 563.0,6.8 560.5,9.6" fill="#222"/>
<circle cx="582" cy="7.8" r="7.4" fill="#2d6fd8" stroke="#1c4fa8" stroke-width="1"/><circle cx="582" cy="7.8" r="4.9" fill="#f4f8ff"/><path d="M582 4.4v3.6l2.6 1.4" stroke="#444" stroke-width="1.1" fill="none"/>
<polygon points="596.5,6.8 601.5,6.8 599,9.6" fill="#222"/>
<rect x="613" y="1.5" width="15.5" height="12.5" fill="#f6faff" stroke="#3a78d8" stroke-width="1.4"/><rect x="613" y="1.5" width="15.5" height="2.4" fill="#3a78d8"/>
<path d="M615 8l3-1.5 3 1 3-2 3 .5" stroke="#d03a2a" stroke-width="1.1" fill="none"/><path d="M615 11.5l3-1 3 1.5 3-1.5 3 1" stroke="#2a9a3a" stroke-width="1.1" fill="none"/>
<polygon points="636.0,6.8 641.0,6.8 638.5,9.6" fill="#222"/>
<rect x="645" y="0" width="1" height="17.5" fill="#a8a8a8"/>
<rect x="650.5" y="1" width="3" height="1" fill="#b4b4b4"/>
<rect x="650.5" y="3" width="3" height="1" fill="#b4b4b4"/>
<rect x="650.5" y="5" width="3" height="1" fill="#b4b4b4"/>
<rect x="650.5" y="7" width="3" height="1" fill="#b4b4b4"/>
<rect x="650.5" y="9" width="3" height="1" fill="#b4b4b4"/>
<rect x="650.5" y="11" width="3" height="1" fill="#b4b4b4"/>
<rect x="650.5" y="13" width="3" height="1" fill="#b4b4b4"/>
<rect x="650.5" y="15" width="3" height="1" fill="#b4b4b4"/>
<rect x="660" y="0" width="23" height="18" fill="#f8f8f8"/>
<path d="M665.5 1v12.5l3-2.8 2.2 4.8 1.8-.8-2.2-4.7h4z" fill="#222"/>
<path d="M697 1.5v14M689.5 8.5h15" stroke="#333" stroke-width="1.1"/><rect x="696" y="7.5" width="2" height="2" fill="#f0f0f0"/>
<rect x="714" y="0" width="1" height="17.5" fill="#a8a8a8"/>
<rect x="731" y="2" width="1.2" height="12" fill="#444"/>
<rect x="753.5" y="7.6" width="13" height="1.2" fill="#444"/>
<path d="M781.5 14L794.5 2.5" stroke="#444" stroke-width="1.2"/>
<path d="M807 13.5l9-10M810.5 14.5l9-10M808.5 9l9 2M811 6l8 2" stroke="#555" stroke-width="1"/><text x="819" y="17" font-size="6.5" fill="#222" font-weight="bold">E</text>
<path d="M837 2.5h13" stroke="#555" stroke-width="1" stroke-dasharray="1,1"/>
<path d="M837 5.5h13" stroke="#555" stroke-width="1" stroke-dasharray="1,1"/>
<path d="M837 8.5h13" stroke="#555" stroke-width="1" stroke-dasharray="1,1"/>
<path d="M837 11.5h13" stroke="#555" stroke-width="1" stroke-dasharray="1,1"/>
<text x="847" y="17" font-size="6.5" fill="#222" font-weight="bold">F</text>
<text x="866.8" y="13.2" font-size="13.5" fill="#444" font-weight="bold">A</text>
<rect x="893.5" y="1.5" width="12" height="12.5" fill="none" stroke="#777" stroke-width="1" stroke-dasharray="1,1"/><text x="895.6" y="12.6" font-size="12" fill="#444" font-weight="bold">T</text>
<path d="M921 5.5l4-3 0 2h3v2h-3v2z" fill="#333" transform="rotate(-40 925 5.5)"/><path d="M928 11.5l4-3 0 2h3v2h-3v2z" fill="#333" transform="rotate(140 931 11.5)"/>
<polygon points="942.5,6.8 947.5,6.8 945,9.6" fill="#222"/>
<rect x="953.5" y="0" width="1" height="17.5" fill="#a8a8a8"/>
<rect x="957" y="1" width="3" height="1" fill="#b4b4b4"/>
<rect x="957" y="3" width="3" height="1" fill="#b4b4b4"/>
<rect x="957" y="5" width="3" height="1" fill="#b4b4b4"/>
<rect x="957" y="7" width="3" height="1" fill="#b4b4b4"/>
<rect x="957" y="9" width="3" height="1" fill="#b4b4b4"/>
<rect x="957" y="11" width="3" height="1" fill="#b4b4b4"/>
<rect x="957" y="13" width="3" height="1" fill="#b4b4b4"/>
<rect x="957" y="15" width="3" height="1" fill="#b4b4b4"/>
<rect x="1131.5" y="0" width="24" height="18" fill="#f8f8f8"/>
<rect x="1131" y="0" width="1" height="17.5" fill="#a8a8a8"/>
<text x="968" y="11.6" font-size="10.2" fill="#4a4a4a" textLength="13.5" lengthAdjust="spacingAndGlyphs">M1</text>
<text x="996" y="11.6" font-size="10.2" fill="#4a4a4a" textLength="13.5" lengthAdjust="spacingAndGlyphs">M5</text>
<text x="1022" y="11.6" font-size="10.2" fill="#4a4a4a" textLength="18.5" lengthAdjust="spacingAndGlyphs">M15</text>
<text x="1049.5" y="11.6" font-size="10.2" fill="#4a4a4a" textLength="19" lengthAdjust="spacingAndGlyphs">M30</text>
<text x="1081" y="11.6" font-size="10.2" fill="#4a4a4a" textLength="13" lengthAdjust="spacingAndGlyphs">H1</text>
<text x="1108" y="11.6" font-size="10.2" fill="#4a4a4a" textLength="13" lengthAdjust="spacingAndGlyphs">H4</text>
<text x="1137" y="11.6" font-size="10.2" fill="#4a4a4a" textLength="13" lengthAdjust="spacingAndGlyphs">D1</text>
<text x="1163.5" y="11.6" font-size="10.2" fill="#4a4a4a" textLength="15.5" lengthAdjust="spacingAndGlyphs">W1</text>
<text x="1191" y="11.6" font-size="10.2" fill="#4a4a4a" textLength="16" lengthAdjust="spacingAndGlyphs">MN</text>
<rect x="1214" y="0" width="1" height="17.5" fill="#a8a8a8"/>
<circle cx="1685" cy="4.8" r="3.1" fill="#eef4ff" stroke="#2f62d0" stroke-width="1.6"/><path d="M1682.6 7.6l-5 5" stroke="#2f62d0" stroke-width="2" stroke-linecap="round"/>
<ellipse cx="1717.3" cy="4.6" rx="6.4" ry="5" fill="#f1f1f6" stroke="#8f8f8f"/><path d="M1718.5 9.2l2 2.6-.2-3z" fill="#555"/>
<ellipse cx="1708.4" cy="8.6" rx="4.8" ry="3.7" fill="#f6f6fa" stroke="#8f8f8f"/><path d="M1705.6 11.6l-.6 2.6 2.8-2z" fill="#555"/>
</svg>
<svg id="oct" width="215" height="66" viewBox="0 44 215 66" style="position:absolute;left:0;top:44px" font-family="Liberation Sans, sans-serif">
<defs>
<linearGradient id="g1" x1="0" y1="0" x2="0" y2="1"><stop offset="0" stop-color="#f45050"/><stop offset="1" stop-color="#dc2c2c"/></linearGradient>
<linearGradient id="g2" x1="0" y1="0" x2="0" y2="1"><stop offset="0" stop-color="#dd2e2e"/><stop offset="0.5" stop-color="#c91a1a"/><stop offset="1" stop-color="#ae0404"/></linearGradient>
<linearGradient id="g3" x1="0" y1="0" x2="0" y2="1"><stop offset="0" stop-color="#f6f6f6"/><stop offset="0.5" stop-color="#e4e4e4"/><stop offset="1" stop-color="#d2d2d2"/></linearGradient>
</defs>
<rect x="0" y="44" width="215" height="64" fill="#fff"/>
<rect x="0" y="44.3" width="45.6" height="24.5" fill="url(#g1)"/>
<rect x="161.6" y="44.3" width="51.4" height="24.5" fill="url(#g1)"/>
<rect x="0" y="68.2" width="102.5" height="39.8" fill="url(#g2)"/>
<rect x="105" y="68.2" width="108" height="39.8" fill="url(#g2)"/>
<rect x="0" y="67.6" width="42" height="1" fill="#f7a8a8"/>
<rect x="165" y="67.6" width="44" height="1" fill="#f7a8a8"/>
<rect x="48.2" y="44.6" width="110.8" height="20.8" fill="#fff" stroke="#a9b0bd" stroke-width="1"/>
<rect x="49.5" y="45.8" width="19.5" height="18.6" fill="url(#g3)" stroke="#b9b9b9" stroke-width="1"/>
<rect x="138" y="45.8" width="19.5" height="18.6" fill="url(#g3)" stroke="#b9b9b9" stroke-width="1"/>
<polygon points="55.8,53 61.2,53 58.5,56.4" fill="#4a62c4"/>
<polygon points="144.8,56.2 150.2,56.2 147.5,52.8" fill="#4a62c4"/>
<text x="6" y="60" font-size="12" fill="#fff" textLength="26.4" lengthAdjust="spacingAndGlyphs">SELL</text>
<text x="174.2" y="60" font-size="12" fill="#fff" textLength="23" lengthAdjust="spacingAndGlyphs">BUY</text>
<text x="133.6" y="58.9" font-size="12" fill="#222" text-anchor="end">1.00</text>
<text x="10.5" y="99" font-size="11.8" font-weight="bold" fill="#fff" textLength="34" lengthAdjust="spacingAndGlyphs">25534</text>
<text x="120.2" y="99" font-size="11.8" font-weight="bold" fill="#fff" textLength="34" lengthAdjust="spacingAndGlyphs">25544</text>
<text x="46" y="99" font-size="36" fill="#fff">.</text>
<text x="157.4" y="99" font-size="36" fill="#fff">.</text>
<text x="56.4" y="99.2" font-size="35" fill="#fff" textLength="15.2" lengthAdjust="spacingAndGlyphs">5</text>
<text x="167.6" y="99.2" font-size="35" fill="#fff" textLength="15.2" lengthAdjust="spacingAndGlyphs">5</text>
</svg>
</body></html>
